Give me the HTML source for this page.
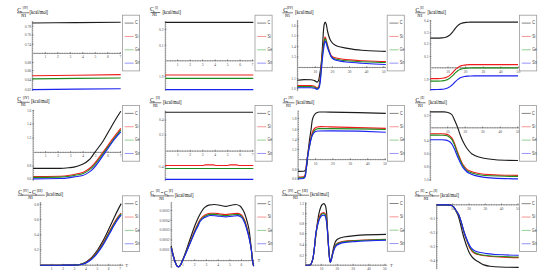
<!DOCTYPE html>
<html><head><meta charset="utf-8"><style>
html,body{margin:0;padding:0;background:#fff;width:550px;height:278px;overflow:hidden}
svg{display:block}
.t{font-family:"Liberation Serif",serif;font-size:5.3px;fill:#222;stroke:#222;stroke-width:0.1}
.ts{font-family:"Liberation Serif",serif;font-size:3.4px;fill:#333;stroke:#333;stroke-width:0.05}
.tn{font-family:"Liberation Serif",serif;font-size:4.5px;fill:#222;stroke:#222;stroke-width:0.08}
.tk{font-family:"Liberation Serif",serif;font-size:5.1px;fill:#2a2a2a;stroke:#2a2a2a;stroke-width:0.05}
.tl{font-family:"Liberation Serif",serif;font-size:3.6px;fill:#4a4a4a}
.lt{font-family:"Liberation Sans",sans-serif;font-size:4.6px;fill:#3a3a3a}
.fb{stroke:#333;stroke-width:0.65}
.ax{stroke:#9a9a9a;stroke-width:1.0}
.mt{stroke:#666;stroke-width:0.55;fill:none}
.Mt{stroke:#555;stroke-width:0.6;fill:none}
.cv{fill:none;stroke-width:1.15;stroke-linejoin:round;stroke-linecap:butt}
.lb{fill:none;stroke:#9a9a9a;stroke-width:0.8}
</style></head><body>
<svg width="550" height="278" viewBox="0 0 550 278">
<rect width="550" height="278" fill="#fff"/>
<text x="17.30" y="11.60" class="t">C</text>
<text x="20.20" y="13.40" class="ts">v</text>
<text x="22.70" y="9.10" class="ts" textLength="5.10" lengthAdjust="spacingAndGlyphs">[IV]</text>
<line x1="17.00" y1="12.80" x2="29.30" y2="12.80" class="fb"/>
<text x="21.30" y="16.60" class="tn" textLength="4.90" lengthAdjust="spacingAndGlyphs">N1</text>
<text x="29.60" y="13.90" class="tk" textLength="18.50" lengthAdjust="spacingAndGlyphs">[kcal/mol]</text>
<line x1="32.30" y1="21.00" x2="32.30" y2="91.00" class="ax"/>
<path d="M32.30 22.00h1M32.30 24.20h1M32.30 26.40h1M32.30 28.60h1M32.30 30.80h1M32.30 33.00h1M32.30 35.20h1M32.30 37.40h1M32.30 39.60h1M32.30 41.80h1M32.30 44.00h1M32.30 46.20h1M32.30 48.40h1M32.30 50.60h1M32.30 52.80h1M32.30 55.00h1M32.30 57.20h1M32.30 59.40h1M32.30 61.60h1M32.30 63.80h1M32.30 66.00h1M32.30 68.20h1M32.30 70.40h1M32.30 72.60h1M32.30 74.80h1M32.30 77.00h1M32.30 79.20h1M32.30 81.40h1M32.30 83.60h1M32.30 85.80h1M32.30 88.00h1M32.30 90.20h1" class="mt"/>
<line x1="32.30" y1="53.40" x2="121.00" y2="53.40" class="ax"/>
<path d="M34.80 52.75v1.3M37.30 52.75v1.3M39.80 52.75v1.3M42.30 52.75v1.3M44.80 52.75v1.3M47.30 52.75v1.3M49.80 52.75v1.3M52.30 52.75v1.3M54.80 52.75v1.3M57.30 52.75v1.3M59.80 52.75v1.3M62.30 52.75v1.3M64.80 52.75v1.3M67.30 52.75v1.3M69.80 52.75v1.3M72.30 52.75v1.3M74.80 52.75v1.3M77.30 52.75v1.3M79.80 52.75v1.3M82.30 52.75v1.3M84.80 52.75v1.3M87.30 52.75v1.3M89.80 52.75v1.3M92.30 52.75v1.3M94.80 52.75v1.3M97.30 52.75v1.3M99.80 52.75v1.3M102.30 52.75v1.3M104.80 52.75v1.3M107.30 52.75v1.3M109.80 52.75v1.3M112.30 52.75v1.3M114.80 52.75v1.3M117.30 52.75v1.3M119.80 52.75v1.3" class="mt"/>
<path d="M45.30 53.70v-1.7M57.80 53.70v-1.7M70.30 53.70v-1.7M82.80 53.70v-1.7M95.30 53.70v-1.7M107.80 53.70v-1.7M120.30 53.70v-1.7" class="Mt"/>
<text x="45.30" y="58.40" class="tl" text-anchor="middle">1</text>
<text x="57.80" y="58.40" class="tl" text-anchor="middle">2</text>
<text x="70.30" y="58.40" class="tl" text-anchor="middle">3</text>
<text x="82.80" y="58.40" class="tl" text-anchor="middle">4</text>
<text x="95.30" y="58.40" class="tl" text-anchor="middle">5</text>
<text x="107.80" y="58.40" class="tl" text-anchor="middle">6</text>
<text x="120.30" y="58.40" class="tl" text-anchor="middle">7</text>
<text x="31.00" y="27.50" class="tl" text-anchor="end">0.78</text>
<path d="M32.00 26.10h1.6" class="Mt"/>
<text x="31.00" y="36.40" class="tl" text-anchor="end">0.76</text>
<path d="M32.00 35.00h1.6" class="Mt"/>
<text x="31.00" y="45.60" class="tl" text-anchor="end">0.74</text>
<path d="M32.00 44.20h1.6" class="Mt"/>
<text x="31.00" y="63.90" class="tl" text-anchor="end">0.68</text>
<path d="M32.00 62.50h1.6" class="Mt"/>
<text x="31.00" y="72.10" class="tl" text-anchor="end">0.66</text>
<path d="M32.00 70.70h1.6" class="Mt"/>
<text x="31.00" y="81.40" class="tl" text-anchor="end">0.64</text>
<path d="M32.00 80.00h1.6" class="Mt"/>
<text x="31.00" y="90.90" class="tl" text-anchor="end">0.62</text>
<path d="M32.00 89.50h1.6" class="Mt"/>
<path d="M32.30 23.00C46.87 22.85 61.43 22.71 76.00 22.60C90.90 22.48 105.80 22.38 120.70 22.30" stroke="#1c1c1c" class="cv"/>
<path d="M32.30 75.80C46.87 75.60 61.43 75.40 76.00 75.20C90.90 75.00 105.80 74.80 120.70 74.60" stroke="#ee1c1c" class="cv"/>
<path d="M32.30 78.90C46.87 78.72 61.43 78.55 76.00 78.40C90.90 78.25 105.80 78.11 120.70 78.00" stroke="#1f8c1f" class="cv"/>
<path d="M32.30 89.60C46.87 89.42 61.43 89.25 76.00 89.10C90.90 88.95 105.80 88.81 120.70 88.70" stroke="#1c22f0" class="cv"/>
<rect x="122.50" y="15.20" width="17.1" height="55.7" class="lb"/>
<line x1="124.70" y1="23.10" x2="133.70" y2="23.10" stroke="#666666" stroke-width="0.8"/>
<text x="135.10" y="24.40" class="lt" textLength="2.70" lengthAdjust="spacingAndGlyphs">C</text>
<line x1="124.70" y1="36.45" x2="133.70" y2="36.45" stroke="#f27a7a" stroke-width="0.8"/>
<text x="135.10" y="37.75" class="lt" textLength="3.20" lengthAdjust="spacingAndGlyphs">Si</text>
<line x1="124.70" y1="49.80" x2="133.70" y2="49.80" stroke="#7cc47c" stroke-width="0.8"/>
<text x="135.10" y="51.10" class="lt" textLength="4.50" lengthAdjust="spacingAndGlyphs">Ge</text>
<line x1="124.70" y1="63.15" x2="133.70" y2="63.15" stroke="#7a7af5" stroke-width="0.8"/>
<text x="135.10" y="64.45" class="lt" textLength="4.50" lengthAdjust="spacingAndGlyphs">Sn</text>
<text x="150.00" y="11.30" class="t">C</text>
<text x="152.90" y="13.10" class="ts">v</text>
<text x="155.10" y="8.80" class="ts" textLength="2.90" lengthAdjust="spacingAndGlyphs">[I]</text>
<line x1="150.40" y1="12.50" x2="160.20" y2="12.50" class="fb"/>
<text x="152.20" y="16.30" class="tn" textLength="4.90" lengthAdjust="spacingAndGlyphs">N1</text>
<text x="162.40" y="13.60" class="tk" textLength="18.50" lengthAdjust="spacingAndGlyphs">[kcal/mol]</text>
<line x1="165.30" y1="21.00" x2="165.30" y2="90.50" class="ax"/>
<path d="M165.30 22.00h1M165.30 24.20h1M165.30 26.40h1M165.30 28.60h1M165.30 30.80h1M165.30 33.00h1M165.30 35.20h1M165.30 37.40h1M165.30 39.60h1M165.30 41.80h1M165.30 44.00h1M165.30 46.20h1M165.30 48.40h1M165.30 50.60h1M165.30 52.80h1M165.30 55.00h1M165.30 57.20h1M165.30 59.40h1M165.30 61.60h1M165.30 63.80h1M165.30 66.00h1M165.30 68.20h1M165.30 70.40h1M165.30 72.60h1M165.30 74.80h1M165.30 77.00h1M165.30 79.20h1M165.30 81.40h1M165.30 83.60h1M165.30 85.80h1M165.30 88.00h1M165.30 90.20h1" class="mt"/>
<line x1="165.30" y1="60.80" x2="253.50" y2="60.80" class="ax"/>
<path d="M167.80 60.15v1.3M170.30 60.15v1.3M172.80 60.15v1.3M175.30 60.15v1.3M177.80 60.15v1.3M180.30 60.15v1.3M182.80 60.15v1.3M185.30 60.15v1.3M187.80 60.15v1.3M190.30 60.15v1.3M192.80 60.15v1.3M195.30 60.15v1.3M197.80 60.15v1.3M200.30 60.15v1.3M202.80 60.15v1.3M205.30 60.15v1.3M207.80 60.15v1.3M210.30 60.15v1.3M212.80 60.15v1.3M215.30 60.15v1.3M217.80 60.15v1.3M220.30 60.15v1.3M222.80 60.15v1.3M225.30 60.15v1.3M227.80 60.15v1.3M230.30 60.15v1.3M232.80 60.15v1.3M235.30 60.15v1.3M237.80 60.15v1.3M240.30 60.15v1.3M242.80 60.15v1.3M245.30 60.15v1.3M247.80 60.15v1.3M250.30 60.15v1.3M252.80 60.15v1.3" class="mt"/>
<path d="M177.70 61.10v-1.7M190.17 61.10v-1.7M202.64 61.10v-1.7M215.11 61.10v-1.7M227.58 61.10v-1.7M240.05 61.10v-1.7M252.52 61.10v-1.7" class="Mt"/>
<text x="177.70" y="65.80" class="tl" text-anchor="middle">1</text>
<text x="190.17" y="65.80" class="tl" text-anchor="middle">2</text>
<text x="202.64" y="65.80" class="tl" text-anchor="middle">3</text>
<text x="215.11" y="65.80" class="tl" text-anchor="middle">4</text>
<text x="227.58" y="65.80" class="tl" text-anchor="middle">5</text>
<text x="240.05" y="65.80" class="tl" text-anchor="middle">6</text>
<text x="252.52" y="65.80" class="tl" text-anchor="middle">7</text>
<text x="163.60" y="30.80" class="tl" text-anchor="end">0.2</text>
<path d="M164.60 29.40h1.6" class="Mt"/>
<text x="163.60" y="46.60" class="tl" text-anchor="end">0.1</text>
<path d="M164.60 45.20h1.6" class="Mt"/>
<text x="163.60" y="77.80" class="tl" text-anchor="end">1.9</text>
<path d="M164.60 76.40h1.6" class="Mt"/>
<path d="M165.30 22.40L253.30 22.40" stroke="#1c1c1c" class="cv"/>
<path d="M165.30 75.00L253.30 75.00" stroke="#ee1c1c" class="cv"/>
<path d="M165.30 78.40L253.30 78.40" stroke="#1f8c1f" class="cv"/>
<path d="M165.30 89.60L253.30 89.60" stroke="#1c22f0" class="cv"/>
<rect x="255.00" y="15.20" width="17.1" height="55.7" class="lb"/>
<line x1="257.20" y1="23.10" x2="266.20" y2="23.10" stroke="#666666" stroke-width="0.8"/>
<text x="267.60" y="24.40" class="lt" textLength="2.70" lengthAdjust="spacingAndGlyphs">C</text>
<line x1="257.20" y1="36.45" x2="266.20" y2="36.45" stroke="#f27a7a" stroke-width="0.8"/>
<text x="267.60" y="37.75" class="lt" textLength="3.20" lengthAdjust="spacingAndGlyphs">Si</text>
<line x1="257.20" y1="49.80" x2="266.20" y2="49.80" stroke="#7cc47c" stroke-width="0.8"/>
<text x="267.60" y="51.10" class="lt" textLength="4.50" lengthAdjust="spacingAndGlyphs">Ge</text>
<line x1="257.20" y1="63.15" x2="266.20" y2="63.15" stroke="#7a7af5" stroke-width="0.8"/>
<text x="267.60" y="64.45" class="lt" textLength="4.50" lengthAdjust="spacingAndGlyphs">Sn</text>
<text x="283.20" y="11.60" class="t">C</text>
<text x="286.10" y="13.40" class="ts">v</text>
<text x="286.90" y="9.10" class="ts" textLength="6.00" lengthAdjust="spacingAndGlyphs">[IV]</text>
<line x1="282.40" y1="12.80" x2="292.90" y2="12.80" class="fb"/>
<text x="285.00" y="16.60" class="tn" textLength="4.90" lengthAdjust="spacingAndGlyphs">N1</text>
<text x="295.10" y="13.90" class="tk" textLength="18.50" lengthAdjust="spacingAndGlyphs">[kcal/mol]</text>
<line x1="297.40" y1="20.00" x2="297.40" y2="91.20" class="ax"/>
<path d="M297.40 21.00h1M297.40 23.20h1M297.40 25.40h1M297.40 27.60h1M297.40 29.80h1M297.40 32.00h1M297.40 34.20h1M297.40 36.40h1M297.40 38.60h1M297.40 40.80h1M297.40 43.00h1M297.40 45.20h1M297.40 47.40h1M297.40 49.60h1M297.40 51.80h1M297.40 54.00h1M297.40 56.20h1M297.40 58.40h1M297.40 60.60h1M297.40 62.80h1M297.40 65.00h1M297.40 67.20h1M297.40 69.40h1M297.40 71.60h1M297.40 73.80h1M297.40 76.00h1M297.40 78.20h1M297.40 80.40h1M297.40 82.60h1M297.40 84.80h1M297.40 87.00h1M297.40 89.20h1" class="mt"/>
<line x1="297.40" y1="67.50" x2="386.00" y2="67.50" class="ax"/>
<path d="M299.90 66.85v1.3M302.40 66.85v1.3M304.90 66.85v1.3M307.40 66.85v1.3M309.90 66.85v1.3M312.40 66.85v1.3M314.90 66.85v1.3M317.40 66.85v1.3M319.90 66.85v1.3M322.40 66.85v1.3M324.90 66.85v1.3M327.40 66.85v1.3M329.90 66.85v1.3M332.40 66.85v1.3M334.90 66.85v1.3M337.40 66.85v1.3M339.90 66.85v1.3M342.40 66.85v1.3M344.90 66.85v1.3M347.40 66.85v1.3M349.90 66.85v1.3M352.40 66.85v1.3M354.90 66.85v1.3M357.40 66.85v1.3M359.90 66.85v1.3M362.40 66.85v1.3M364.90 66.85v1.3M367.40 66.85v1.3M369.90 66.85v1.3M372.40 66.85v1.3M374.90 66.85v1.3M377.40 66.85v1.3M379.90 66.85v1.3M382.40 66.85v1.3M384.90 66.85v1.3" class="mt"/>
<path d="M315.30 67.80v-1.7M332.40 67.80v-1.7M349.50 67.80v-1.7M366.60 67.80v-1.7M383.70 67.80v-1.7" class="Mt"/>
<text x="315.30" y="72.50" class="tl" text-anchor="middle">10</text>
<text x="332.40" y="72.50" class="tl" text-anchor="middle">20</text>
<text x="349.50" y="72.50" class="tl" text-anchor="middle">30</text>
<text x="366.60" y="72.50" class="tl" text-anchor="middle">40</text>
<text x="383.70" y="72.50" class="tl" text-anchor="middle">50</text>
<text x="295.80" y="27.40" class="tl" text-anchor="end">1.6</text>
<path d="M296.80 26.00h1.6" class="Mt"/>
<text x="295.80" y="37.20" class="tl" text-anchor="end">1.5</text>
<path d="M296.80 35.80h1.6" class="Mt"/>
<text x="295.80" y="47.80" class="tl" text-anchor="end">1.4</text>
<path d="M296.80 46.40h1.6" class="Mt"/>
<text x="295.80" y="58.40" class="tl" text-anchor="end">1.3</text>
<path d="M296.80 57.00h1.6" class="Mt"/>
<text x="295.80" y="80.00" class="tl" text-anchor="end">1.1</text>
<path d="M296.80 78.60h1.6" class="Mt"/>
<text x="295.80" y="89.60" class="tl" text-anchor="end">1.0</text>
<path d="M296.80 88.20h1.6" class="Mt"/>
<path d="M297.40 80.20C299.60 79.89 301.80 79.60 304.00 79.60C306.33 79.60 308.67 79.63 311.00 79.70C312.17 79.74 313.33 80.18 314.50 80.60C315.37 80.91 316.23 82.10 317.10 82.10C317.60 82.10 318.10 81.44 318.60 80.50C318.93 79.88 319.27 77.00 319.60 75.00C320.10 72.01 320.60 69.46 321.10 65.00C321.70 59.65 322.30 49.35 322.90 40.00C323.07 37.40 323.23 33.47 323.40 31.50C323.67 28.34 323.93 25.56 324.20 24.50C324.53 23.18 324.87 22.00 325.20 22.00C325.53 22.00 325.87 23.05 326.20 24.00C326.67 25.33 327.13 29.60 327.60 31.50C328.50 35.17 329.40 38.31 330.30 40.00C331.20 41.69 332.10 42.83 333.00 43.60C334.50 44.88 336.00 45.81 337.50 46.30C340.33 47.23 343.17 47.62 346.00 48.10C351.20 48.98 356.40 49.83 361.60 50.20C369.67 50.77 377.73 51.30 385.80 51.30" stroke="#1c1c1c" class="cv"/>
<path d="M297.40 85.60C301.93 85.60 306.47 85.60 311.00 85.60C312.17 85.60 313.33 85.94 314.50 86.30C315.37 86.57 316.23 87.90 317.10 87.90C317.67 87.90 318.23 87.35 318.80 86.50C319.20 85.90 319.60 82.93 320.00 80.00C320.43 76.82 320.87 69.66 321.30 65.00C321.87 58.91 322.43 52.44 323.00 48.00C323.43 44.61 323.87 41.44 324.30 39.50C324.53 38.45 324.77 37.00 325.00 37.00C325.27 37.00 325.53 37.86 325.80 38.50C326.37 39.87 326.93 43.00 327.50 45.00C328.17 47.35 328.83 49.61 329.50 51.50C330.00 52.92 330.50 54.69 331.00 55.30C331.83 56.32 332.67 56.86 333.50 57.20C335.67 58.07 337.83 58.43 340.00 58.80C342.00 59.14 344.00 59.41 346.00 59.60C351.20 60.10 356.40 60.44 361.60 60.70C369.67 61.10 377.73 61.46 385.80 61.60" stroke="#ee1c1c" class="cv"/>
<path d="M297.40 86.60C301.93 86.60 306.47 86.60 311.00 86.60C312.17 86.60 313.33 86.96 314.50 87.30C315.37 87.55 316.23 88.60 317.10 88.60C317.70 88.60 318.30 88.10 318.90 87.30C319.30 86.77 319.70 83.87 320.10 81.00C320.53 77.89 320.97 70.66 321.40 66.00C321.97 59.91 322.53 53.27 323.10 49.00C323.53 45.73 323.97 42.86 324.40 41.00C324.63 40.00 324.87 38.60 325.10 38.60C325.37 38.60 325.63 39.39 325.90 40.00C326.47 41.30 327.03 44.50 327.60 46.50C328.27 48.85 328.93 51.24 329.60 53.00C330.13 54.41 330.67 55.97 331.20 56.60C332.03 57.58 332.87 58.17 333.70 58.50C335.80 59.32 337.90 59.64 340.00 60.00C342.00 60.34 344.00 60.62 346.00 60.80C351.20 61.27 356.40 61.59 361.60 61.80C369.67 62.13 377.73 62.44 385.80 62.50" stroke="#1f8c1f" class="cv"/>
<path d="M297.40 87.70C301.93 87.70 306.47 87.70 311.00 87.70C312.17 87.70 313.33 87.94 314.50 88.20C315.37 88.39 316.23 89.30 317.10 89.30C317.73 89.30 318.37 88.81 319.00 88.00C319.40 87.49 319.80 84.72 320.20 82.00C320.63 79.06 321.07 72.37 321.50 68.00C322.07 62.29 322.63 56.34 323.20 52.00C323.63 48.68 324.07 45.44 324.50 43.50C324.73 42.45 324.97 41.00 325.20 41.00C325.47 41.00 325.73 41.87 326.00 42.50C326.53 43.75 327.07 46.43 327.60 48.00C328.20 49.76 328.80 51.22 329.40 52.60C330.27 54.60 331.13 57.19 332.00 58.00C333.33 59.25 334.67 59.90 336.00 60.30C337.33 60.70 338.67 60.87 340.00 61.10C342.00 61.45 344.00 61.79 346.00 62.00C351.20 62.56 356.40 62.87 361.60 63.20C369.67 63.72 377.73 64.18 385.80 64.50" stroke="#1c22f0" class="cv"/>
<rect x="387.20" y="15.20" width="17.1" height="55.7" class="lb"/>
<line x1="389.40" y1="23.10" x2="398.40" y2="23.10" stroke="#666666" stroke-width="0.8"/>
<text x="399.80" y="24.40" class="lt" textLength="2.70" lengthAdjust="spacingAndGlyphs">C</text>
<line x1="389.40" y1="36.45" x2="398.40" y2="36.45" stroke="#f27a7a" stroke-width="0.8"/>
<text x="399.80" y="37.75" class="lt" textLength="3.20" lengthAdjust="spacingAndGlyphs">Si</text>
<line x1="389.40" y1="49.80" x2="398.40" y2="49.80" stroke="#7cc47c" stroke-width="0.8"/>
<text x="399.80" y="51.10" class="lt" textLength="4.50" lengthAdjust="spacingAndGlyphs">Ge</text>
<line x1="389.40" y1="63.15" x2="398.40" y2="63.15" stroke="#7a7af5" stroke-width="0.8"/>
<text x="399.80" y="64.45" class="lt" textLength="4.50" lengthAdjust="spacingAndGlyphs">Sn</text>
<text x="415.50" y="11.60" class="t">C</text>
<text x="418.40" y="13.40" class="ts">v</text>
<text x="420.20" y="9.10" class="ts" textLength="3.30" lengthAdjust="spacingAndGlyphs">[II]</text>
<line x1="415.10" y1="12.80" x2="425.30" y2="12.80" class="fb"/>
<text x="417.60" y="16.60" class="tn" textLength="4.90" lengthAdjust="spacingAndGlyphs">N1</text>
<text x="427.50" y="13.90" class="tk" textLength="18.50" lengthAdjust="spacingAndGlyphs">[kcal/mol]</text>
<line x1="430.40" y1="20.20" x2="430.40" y2="91.00" class="ax"/>
<path d="M430.40 21.20h1M430.40 23.40h1M430.40 25.60h1M430.40 27.80h1M430.40 30.00h1M430.40 32.20h1M430.40 34.40h1M430.40 36.60h1M430.40 38.80h1M430.40 41.00h1M430.40 43.20h1M430.40 45.40h1M430.40 47.60h1M430.40 49.80h1M430.40 52.00h1M430.40 54.20h1M430.40 56.40h1M430.40 58.60h1M430.40 60.80h1M430.40 63.00h1M430.40 65.20h1M430.40 67.40h1M430.40 69.60h1M430.40 71.80h1M430.40 74.00h1M430.40 76.20h1M430.40 78.40h1M430.40 80.60h1M430.40 82.80h1M430.40 85.00h1M430.40 87.20h1M430.40 89.40h1" class="mt"/>
<line x1="430.40" y1="67.80" x2="519.00" y2="67.80" class="ax"/>
<path d="M432.90 67.15v1.3M435.40 67.15v1.3M437.90 67.15v1.3M440.40 67.15v1.3M442.90 67.15v1.3M445.40 67.15v1.3M447.90 67.15v1.3M450.40 67.15v1.3M452.90 67.15v1.3M455.40 67.15v1.3M457.90 67.15v1.3M460.40 67.15v1.3M462.90 67.15v1.3M465.40 67.15v1.3M467.90 67.15v1.3M470.40 67.15v1.3M472.90 67.15v1.3M475.40 67.15v1.3M477.90 67.15v1.3M480.40 67.15v1.3M482.90 67.15v1.3M485.40 67.15v1.3M487.90 67.15v1.3M490.40 67.15v1.3M492.90 67.15v1.3M495.40 67.15v1.3M497.90 67.15v1.3M500.40 67.15v1.3M502.90 67.15v1.3M505.40 67.15v1.3M507.90 67.15v1.3M510.40 67.15v1.3M512.90 67.15v1.3M515.40 67.15v1.3M517.90 67.15v1.3" class="mt"/>
<path d="M448.00 68.10v-1.7M465.60 68.10v-1.7M483.20 68.10v-1.7M500.80 68.10v-1.7M518.40 68.10v-1.7" class="Mt"/>
<text x="448.00" y="72.80" class="tl" text-anchor="middle">10</text>
<text x="465.60" y="72.80" class="tl" text-anchor="middle">20</text>
<text x="483.20" y="72.80" class="tl" text-anchor="middle">30</text>
<text x="500.80" y="72.80" class="tl" text-anchor="middle">40</text>
<text x="518.40" y="72.80" class="tl" text-anchor="middle">50</text>
<text x="428.60" y="22.10" class="tl" text-anchor="end">0.4</text>
<path d="M429.60 20.70h1.6" class="Mt"/>
<text x="428.60" y="34.30" class="tl" text-anchor="end">0.3</text>
<path d="M429.60 32.90h1.6" class="Mt"/>
<text x="428.60" y="45.30" class="tl" text-anchor="end">0.2</text>
<path d="M429.60 43.90h1.6" class="Mt"/>
<text x="428.60" y="57.80" class="tl" text-anchor="end">0.1</text>
<path d="M429.60 56.40h1.6" class="Mt"/>
<text x="428.60" y="80.80" class="tl" text-anchor="end">1.9</text>
<path d="M429.60 79.40h1.6" class="Mt"/>
<path d="M430.40 38.19C433.27 38.19 436.13 38.15 439.00 38.09C440.00 38.07 441.00 38.00 442.00 37.91C443.00 37.82 444.00 37.66 445.00 37.44C445.50 37.33 446.00 37.17 446.50 36.98C447.00 36.79 447.50 36.56 448.00 36.28C448.50 36.00 449.00 35.65 449.50 35.26C450.00 34.87 450.50 34.39 451.00 33.87C451.50 33.35 452.00 32.74 452.50 32.12C453.00 31.50 453.50 30.81 454.00 30.15C454.50 29.49 455.00 28.80 455.50 28.18C456.00 27.56 456.50 26.95 457.00 26.43C457.50 25.91 458.00 25.43 458.50 25.04C459.00 24.65 459.50 24.30 460.00 24.02C460.50 23.74 461.00 23.51 461.50 23.32C462.00 23.13 462.50 22.97 463.00 22.86C464.00 22.64 465.00 22.48 466.00 22.39C467.00 22.30 468.00 22.24 469.00 22.21C470.00 22.18 471.00 22.14 472.00 22.14C487.33 22.10 502.67 22.10 518.00 22.10" stroke="#1c1c1c" class="cv"/>
<path d="M430.40 78.69C432.77 78.69 435.13 78.66 437.50 78.61C438.57 78.59 439.63 78.53 440.70 78.45C441.77 78.37 442.83 78.22 443.90 78.03C444.43 77.93 444.97 77.79 445.50 77.63C446.03 77.47 446.57 77.26 447.10 77.02C447.63 76.78 448.17 76.47 448.70 76.13C449.23 75.79 449.77 75.36 450.30 74.91C450.83 74.46 451.37 73.92 451.90 73.38C452.43 72.84 452.97 72.23 453.50 71.65C454.03 71.07 454.57 70.46 455.10 69.92C455.63 69.38 456.17 68.84 456.70 68.39C457.23 67.94 457.77 67.51 458.30 67.17C458.83 66.83 459.37 66.52 459.90 66.28C460.43 66.04 460.97 65.83 461.50 65.67C462.03 65.51 462.57 65.37 463.10 65.27C464.17 65.08 465.23 64.93 466.30 64.85C467.37 64.77 468.43 64.72 469.50 64.69C470.57 64.66 471.63 64.63 472.70 64.63C487.80 64.60 502.90 64.60 518.00 64.60" stroke="#ee1c1c" class="cv"/>
<path d="M430.40 81.19C432.83 81.19 435.27 81.16 437.70 81.11C438.77 81.09 439.83 81.03 440.90 80.96C441.97 80.89 443.03 80.75 444.10 80.57C444.63 80.48 445.17 80.34 445.70 80.19C446.23 80.04 446.77 79.84 447.30 79.61C447.83 79.38 448.37 79.09 448.90 78.77C449.43 78.45 449.97 78.05 450.50 77.62C451.03 77.19 451.57 76.69 452.10 76.18C452.63 75.67 453.17 75.09 453.70 74.55C454.23 74.01 454.77 73.43 455.30 72.92C455.83 72.41 456.37 71.91 456.90 71.48C457.43 71.05 457.97 70.65 458.50 70.33C459.03 70.01 459.57 69.72 460.10 69.49C460.63 69.26 461.17 69.06 461.70 68.91C462.23 68.76 462.77 68.62 463.30 68.53C464.37 68.35 465.43 68.21 466.50 68.14C467.57 68.07 468.63 68.02 469.70 67.99C470.77 67.96 471.83 67.93 472.90 67.93C487.93 67.90 502.97 67.90 518.00 67.90" stroke="#1f8c1f" class="cv"/>
<path d="M430.40 89.59C432.87 89.59 435.33 89.56 437.80 89.51C438.90 89.49 440.00 89.43 441.10 89.35C442.20 89.27 443.30 89.13 444.40 88.95C444.95 88.86 445.50 88.72 446.05 88.56C446.60 88.40 447.15 88.20 447.70 87.97C448.25 87.74 448.80 87.43 449.35 87.10C449.90 86.77 450.45 86.36 451.00 85.92C451.55 85.48 452.10 84.96 452.65 84.43C453.20 83.90 453.75 83.31 454.30 82.75C454.85 82.19 455.40 81.60 455.95 81.07C456.50 80.54 457.05 80.02 457.60 79.58C458.15 79.14 458.70 78.73 459.25 78.40C459.80 78.07 460.35 77.76 460.90 77.53C461.45 77.30 462.00 77.10 462.55 76.94C463.10 76.78 463.65 76.64 464.20 76.55C465.30 76.37 466.40 76.23 467.50 76.15C468.60 76.07 469.70 76.02 470.80 75.99C471.90 75.96 473.00 75.93 474.10 75.93C488.73 75.90 503.37 75.90 518.00 75.90" stroke="#1c22f0" class="cv"/>
<rect x="519.60" y="15.20" width="17.1" height="55.7" class="lb"/>
<line x1="521.80" y1="23.10" x2="530.80" y2="23.10" stroke="#666666" stroke-width="0.8"/>
<text x="532.20" y="24.40" class="lt" textLength="2.70" lengthAdjust="spacingAndGlyphs">C</text>
<line x1="521.80" y1="36.45" x2="530.80" y2="36.45" stroke="#f27a7a" stroke-width="0.8"/>
<text x="532.20" y="37.75" class="lt" textLength="3.20" lengthAdjust="spacingAndGlyphs">Si</text>
<line x1="521.80" y1="49.80" x2="530.80" y2="49.80" stroke="#7cc47c" stroke-width="0.8"/>
<text x="532.20" y="51.10" class="lt" textLength="4.50" lengthAdjust="spacingAndGlyphs">Ge</text>
<line x1="521.80" y1="63.15" x2="530.80" y2="63.15" stroke="#7a7af5" stroke-width="0.8"/>
<text x="532.20" y="64.45" class="lt" textLength="4.50" lengthAdjust="spacingAndGlyphs">Sn</text>
<text x="17.30" y="101.10" class="t">C</text>
<text x="20.20" y="102.90" class="ts">v</text>
<text x="23.10" y="98.60" class="ts" textLength="5.80" lengthAdjust="spacingAndGlyphs">[IV]</text>
<line x1="17.30" y1="102.30" x2="29.60" y2="102.30" class="fb"/>
<text x="20.90" y="106.10" class="tn" textLength="4.90" lengthAdjust="spacingAndGlyphs">N1</text>
<text x="31.10" y="103.40" class="tk" textLength="18.50" lengthAdjust="spacingAndGlyphs">[kcal/mol]</text>
<line x1="33.10" y1="110.00" x2="33.10" y2="181.00" class="ax"/>
<path d="M33.10 111.00h1M33.10 113.20h1M33.10 115.40h1M33.10 117.60h1M33.10 119.80h1M33.10 122.00h1M33.10 124.20h1M33.10 126.40h1M33.10 128.60h1M33.10 130.80h1M33.10 133.00h1M33.10 135.20h1M33.10 137.40h1M33.10 139.60h1M33.10 141.80h1M33.10 144.00h1M33.10 146.20h1M33.10 148.40h1M33.10 150.60h1M33.10 152.80h1M33.10 155.00h1M33.10 157.20h1M33.10 159.40h1M33.10 161.60h1M33.10 163.80h1M33.10 166.00h1M33.10 168.20h1M33.10 170.40h1M33.10 172.60h1M33.10 174.80h1M33.10 177.00h1M33.10 179.20h1" class="mt"/>
<line x1="33.10" y1="152.40" x2="121.00" y2="152.40" class="ax"/>
<path d="M35.60 151.75v1.3M38.10 151.75v1.3M40.60 151.75v1.3M43.10 151.75v1.3M45.60 151.75v1.3M48.10 151.75v1.3M50.60 151.75v1.3M53.10 151.75v1.3M55.60 151.75v1.3M58.10 151.75v1.3M60.60 151.75v1.3M63.10 151.75v1.3M65.60 151.75v1.3M68.10 151.75v1.3M70.60 151.75v1.3M73.10 151.75v1.3M75.60 151.75v1.3M78.10 151.75v1.3M80.60 151.75v1.3M83.10 151.75v1.3M85.60 151.75v1.3M88.10 151.75v1.3M90.60 151.75v1.3M93.10 151.75v1.3M95.60 151.75v1.3M98.10 151.75v1.3M100.60 151.75v1.3M103.10 151.75v1.3M105.60 151.75v1.3M108.10 151.75v1.3M110.60 151.75v1.3M113.10 151.75v1.3M115.60 151.75v1.3M118.10 151.75v1.3M120.60 151.75v1.3" class="mt"/>
<path d="M45.60 152.70v-1.7M58.10 152.70v-1.7M70.60 152.70v-1.7M83.10 152.70v-1.7M95.60 152.70v-1.7M108.10 152.70v-1.7M120.60 152.70v-1.7" class="Mt"/>
<text x="45.60" y="157.40" class="tl" text-anchor="middle">1</text>
<text x="58.10" y="157.40" class="tl" text-anchor="middle">2</text>
<text x="70.60" y="157.40" class="tl" text-anchor="middle">3</text>
<text x="83.10" y="157.40" class="tl" text-anchor="middle">4</text>
<text x="95.60" y="157.40" class="tl" text-anchor="middle">5</text>
<text x="108.10" y="157.40" class="tl" text-anchor="middle">6</text>
<text x="120.60" y="157.40" class="tl" text-anchor="middle">7</text>
<text x="31.40" y="111.90" class="tl" text-anchor="end">1.6</text>
<path d="M32.40 110.50h1.6" class="Mt"/>
<text x="31.40" y="125.40" class="tl" text-anchor="end">1.4</text>
<path d="M32.40 124.00h1.6" class="Mt"/>
<text x="31.40" y="139.40" class="tl" text-anchor="end">1.2</text>
<path d="M32.40 138.00h1.6" class="Mt"/>
<text x="31.40" y="167.40" class="tl" text-anchor="end">0.8</text>
<path d="M32.40 166.00h1.6" class="Mt"/>
<text x="31.40" y="180.40" class="tl" text-anchor="end">0.6</text>
<path d="M32.40 179.00h1.6" class="Mt"/>
<path d="M33.10 168.40C42.07 168.40 51.03 168.37 60.00 168.30C63.33 168.27 66.67 167.91 70.00 167.60C71.33 167.48 72.67 167.33 74.00 167.10C76.87 166.61 79.73 165.59 82.60 164.30C84.90 163.27 87.20 161.65 89.50 159.50C91.20 157.91 92.90 154.90 94.60 152.60C97.40 148.81 100.20 145.47 103.00 141.20C105.17 137.89 107.33 133.74 109.50 130.00C111.33 126.84 113.17 123.53 115.00 120.50C116.93 117.30 118.87 114.23 120.80 111.30" stroke="#1c1c1c" class="cv"/>
<path d="M33.10 176.50C42.07 176.50 51.03 176.40 60.00 176.20C63.33 176.12 66.67 175.74 70.00 175.30C71.33 175.12 72.67 174.78 74.00 174.50C76.87 173.89 79.73 173.48 82.60 172.50C85.47 171.52 88.33 169.38 91.20 167.00C95.17 163.71 99.13 157.43 103.10 152.20C105.97 148.42 108.83 144.05 111.70 140.20C114.73 136.12 117.77 132.18 120.80 128.40" stroke="#ee1c1c" class="cv"/>
<path d="M33.10 177.40C42.07 177.40 51.03 177.30 60.00 177.10C63.33 177.03 66.67 176.71 70.00 176.30C71.33 176.14 72.67 175.77 74.00 175.50C76.87 174.92 79.73 174.60 82.60 173.70C85.47 172.80 88.33 170.71 91.20 168.40C95.43 164.98 99.67 158.11 103.90 152.60C106.80 148.83 109.70 144.64 112.60 140.80C115.33 137.18 118.07 133.65 120.80 130.20" stroke="#1f8c1f" class="cv"/>
<path d="M33.10 178.80C42.07 178.80 51.03 178.70 60.00 178.50C63.33 178.42 66.67 178.02 70.00 177.60C71.33 177.43 72.67 177.13 74.00 176.90C76.87 176.41 79.73 176.23 82.60 175.50C85.47 174.77 88.33 172.80 91.20 170.60C95.93 166.97 100.67 158.67 105.40 152.20C108.23 148.32 111.07 143.67 113.90 140.00C116.20 137.02 118.50 134.28 120.80 131.80" stroke="#1c22f0" class="cv"/>
<rect x="122.50" y="105.50" width="17.1" height="55.7" class="lb"/>
<line x1="124.70" y1="113.40" x2="133.70" y2="113.40" stroke="#666666" stroke-width="0.8"/>
<text x="135.10" y="114.70" class="lt" textLength="2.70" lengthAdjust="spacingAndGlyphs">C</text>
<line x1="124.70" y1="126.75" x2="133.70" y2="126.75" stroke="#f27a7a" stroke-width="0.8"/>
<text x="135.10" y="128.05" class="lt" textLength="3.20" lengthAdjust="spacingAndGlyphs">Si</text>
<line x1="124.70" y1="140.10" x2="133.70" y2="140.10" stroke="#7cc47c" stroke-width="0.8"/>
<text x="135.10" y="141.40" class="lt" textLength="4.50" lengthAdjust="spacingAndGlyphs">Ge</text>
<line x1="124.70" y1="153.45" x2="133.70" y2="153.45" stroke="#7a7af5" stroke-width="0.8"/>
<text x="135.10" y="154.75" class="lt" textLength="4.50" lengthAdjust="spacingAndGlyphs">Sn</text>
<text x="150.00" y="101.60" class="t">C</text>
<text x="152.90" y="103.40" class="ts">v</text>
<text x="155.80" y="99.10" class="ts" textLength="4.00" lengthAdjust="spacingAndGlyphs">[I]</text>
<line x1="149.60" y1="102.80" x2="161.30" y2="102.80" class="fb"/>
<text x="152.90" y="106.60" class="tn" textLength="4.90" lengthAdjust="spacingAndGlyphs">N1</text>
<text x="163.10" y="103.90" class="tk" textLength="18.50" lengthAdjust="spacingAndGlyphs">[kcal/mol]</text>
<line x1="165.20" y1="110.50" x2="165.20" y2="181.00" class="ax"/>
<path d="M165.20 111.50h1M165.20 113.70h1M165.20 115.90h1M165.20 118.10h1M165.20 120.30h1M165.20 122.50h1M165.20 124.70h1M165.20 126.90h1M165.20 129.10h1M165.20 131.30h1M165.20 133.50h1M165.20 135.70h1M165.20 137.90h1M165.20 140.10h1M165.20 142.30h1M165.20 144.50h1M165.20 146.70h1M165.20 148.90h1M165.20 151.10h1M165.20 153.30h1M165.20 155.50h1M165.20 157.70h1M165.20 159.90h1M165.20 162.10h1M165.20 164.30h1M165.20 166.50h1M165.20 168.70h1M165.20 170.90h1M165.20 173.10h1M165.20 175.30h1M165.20 177.50h1M165.20 179.70h1" class="mt"/>
<line x1="165.20" y1="151.10" x2="253.50" y2="151.10" class="ax"/>
<path d="M167.70 150.45v1.3M170.20 150.45v1.3M172.70 150.45v1.3M175.20 150.45v1.3M177.70 150.45v1.3M180.20 150.45v1.3M182.70 150.45v1.3M185.20 150.45v1.3M187.70 150.45v1.3M190.20 150.45v1.3M192.70 150.45v1.3M195.20 150.45v1.3M197.70 150.45v1.3M200.20 150.45v1.3M202.70 150.45v1.3M205.20 150.45v1.3M207.70 150.45v1.3M210.20 150.45v1.3M212.70 150.45v1.3M215.20 150.45v1.3M217.70 150.45v1.3M220.20 150.45v1.3M222.70 150.45v1.3M225.20 150.45v1.3M227.70 150.45v1.3M230.20 150.45v1.3M232.70 150.45v1.3M235.20 150.45v1.3M237.70 150.45v1.3M240.20 150.45v1.3M242.70 150.45v1.3M245.20 150.45v1.3M247.70 150.45v1.3M250.20 150.45v1.3M252.70 150.45v1.3" class="mt"/>
<path d="M177.80 151.40v-1.7M190.27 151.40v-1.7M202.74 151.40v-1.7M215.21 151.40v-1.7M227.68 151.40v-1.7M240.15 151.40v-1.7M252.62 151.40v-1.7" class="Mt"/>
<text x="177.80" y="156.10" class="tl" text-anchor="middle">1</text>
<text x="190.27" y="156.10" class="tl" text-anchor="middle">2</text>
<text x="202.74" y="156.10" class="tl" text-anchor="middle">3</text>
<text x="215.21" y="156.10" class="tl" text-anchor="middle">4</text>
<text x="227.68" y="156.10" class="tl" text-anchor="middle">5</text>
<text x="240.15" y="156.10" class="tl" text-anchor="middle">6</text>
<text x="252.62" y="156.10" class="tl" text-anchor="middle">7</text>
<text x="163.60" y="121.40" class="tl" text-anchor="end">0.4</text>
<path d="M164.60 120.00h1.6" class="Mt"/>
<text x="163.60" y="136.40" class="tl" text-anchor="end">0.2</text>
<path d="M164.60 135.00h1.6" class="Mt"/>
<text x="163.60" y="168.20" class="tl" text-anchor="end">-1.4</text>
<path d="M164.60 166.80h1.6" class="Mt"/>
<path d="M165.20 112.20L253.00 112.20" stroke="#1c1c1c" class="cv"/>
<path d="M165.20 165.50C177.63 165.50 190.07 165.50 202.50 165.50C203.50 165.50 204.50 164.90 205.50 164.90C208.17 164.90 210.83 164.90 213.50 164.90C214.50 164.90 215.50 165.50 216.50 165.50C220.00 165.50 223.50 165.50 227.00 165.50C228.00 165.50 229.00 164.90 230.00 164.90C232.17 164.90 234.33 164.90 236.50 164.90C237.50 164.90 238.50 165.50 239.50 165.50C244.10 165.50 248.70 165.50 253.30 165.50" stroke="#ee1c1c" class="cv"/>
<path d="M165.20 168.50L253.30 168.50" stroke="#1f8c1f" class="cv"/>
<path d="M165.20 179.40L253.30 179.40" stroke="#1c22f0" class="cv"/>
<rect x="255.00" y="105.50" width="17.1" height="55.7" class="lb"/>
<line x1="257.20" y1="113.40" x2="266.20" y2="113.40" stroke="#666666" stroke-width="0.8"/>
<text x="267.60" y="114.70" class="lt" textLength="2.70" lengthAdjust="spacingAndGlyphs">C</text>
<line x1="257.20" y1="126.75" x2="266.20" y2="126.75" stroke="#f27a7a" stroke-width="0.8"/>
<text x="267.60" y="128.05" class="lt" textLength="3.20" lengthAdjust="spacingAndGlyphs">Si</text>
<line x1="257.20" y1="140.10" x2="266.20" y2="140.10" stroke="#7cc47c" stroke-width="0.8"/>
<text x="267.60" y="141.40" class="lt" textLength="4.50" lengthAdjust="spacingAndGlyphs">Ge</text>
<line x1="257.20" y1="153.45" x2="266.20" y2="153.45" stroke="#7a7af5" stroke-width="0.8"/>
<text x="267.60" y="154.75" class="lt" textLength="4.50" lengthAdjust="spacingAndGlyphs">Sn</text>
<text x="283.50" y="101.60" class="t">C</text>
<text x="286.40" y="103.40" class="ts">v</text>
<text x="288.50" y="99.10" class="ts" textLength="4.80" lengthAdjust="spacingAndGlyphs">[IV]</text>
<line x1="282.70" y1="102.80" x2="294.40" y2="102.80" class="fb"/>
<text x="286.00" y="106.60" class="tn" textLength="4.90" lengthAdjust="spacingAndGlyphs">N1</text>
<text x="295.80" y="103.90" class="tk" textLength="18.50" lengthAdjust="spacingAndGlyphs">[kcal/mol]</text>
<line x1="298.00" y1="110.40" x2="298.00" y2="180.00" class="ax"/>
<path d="M298.00 111.40h1M298.00 113.60h1M298.00 115.80h1M298.00 118.00h1M298.00 120.20h1M298.00 122.40h1M298.00 124.60h1M298.00 126.80h1M298.00 129.00h1M298.00 131.20h1M298.00 133.40h1M298.00 135.60h1M298.00 137.80h1M298.00 140.00h1M298.00 142.20h1M298.00 144.40h1M298.00 146.60h1M298.00 148.80h1M298.00 151.00h1M298.00 153.20h1M298.00 155.40h1M298.00 157.60h1M298.00 159.80h1M298.00 162.00h1M298.00 164.20h1M298.00 166.40h1M298.00 168.60h1M298.00 170.80h1M298.00 173.00h1M298.00 175.20h1M298.00 177.40h1M298.00 179.60h1" class="mt"/>
<line x1="298.00" y1="159.60" x2="386.00" y2="159.60" class="ax"/>
<path d="M300.50 158.95v1.3M303.00 158.95v1.3M305.50 158.95v1.3M308.00 158.95v1.3M310.50 158.95v1.3M313.00 158.95v1.3M315.50 158.95v1.3M318.00 158.95v1.3M320.50 158.95v1.3M323.00 158.95v1.3M325.50 158.95v1.3M328.00 158.95v1.3M330.50 158.95v1.3M333.00 158.95v1.3M335.50 158.95v1.3M338.00 158.95v1.3M340.50 158.95v1.3M343.00 158.95v1.3M345.50 158.95v1.3M348.00 158.95v1.3M350.50 158.95v1.3M353.00 158.95v1.3M355.50 158.95v1.3M358.00 158.95v1.3M360.50 158.95v1.3M363.00 158.95v1.3M365.50 158.95v1.3M368.00 158.95v1.3M370.50 158.95v1.3M373.00 158.95v1.3M375.50 158.95v1.3M378.00 158.95v1.3M380.50 158.95v1.3M383.00 158.95v1.3M385.50 158.95v1.3" class="mt"/>
<path d="M315.50 159.90v-1.7M332.90 159.90v-1.7M350.30 159.90v-1.7M367.70 159.90v-1.7M385.10 159.90v-1.7" class="Mt"/>
<text x="315.50" y="164.60" class="tl" text-anchor="middle">10</text>
<text x="332.90" y="164.60" class="tl" text-anchor="middle">20</text>
<text x="350.30" y="164.60" class="tl" text-anchor="middle">30</text>
<text x="367.70" y="164.60" class="tl" text-anchor="middle">40</text>
<text x="385.10" y="164.60" class="tl" text-anchor="middle">50</text>
<text x="296.50" y="119.90" class="tl" text-anchor="end">1.8</text>
<path d="M297.50 118.50h1.6" class="Mt"/>
<text x="296.50" y="130.80" class="tl" text-anchor="end">1.6</text>
<path d="M297.50 129.40h1.6" class="Mt"/>
<text x="296.50" y="140.60" class="tl" text-anchor="end">1.4</text>
<path d="M297.50 139.20h1.6" class="Mt"/>
<text x="296.50" y="150.90" class="tl" text-anchor="end">1.2</text>
<path d="M297.50 149.50h1.6" class="Mt"/>
<text x="296.50" y="170.90" class="tl" text-anchor="end">0.8</text>
<path d="M297.50 169.50h1.6" class="Mt"/>
<text x="296.50" y="180.20" class="tl" text-anchor="end">0.6</text>
<path d="M297.50 178.80h1.6" class="Mt"/>
<path d="M298.00 171.40C299.93 171.40 301.87 171.38 303.80 171.30C304.37 171.28 304.93 170.59 305.50 169.80C306.00 169.10 306.50 167.71 307.00 165.00C307.27 163.55 307.53 157.82 307.80 155.00C308.37 149.01 308.93 144.29 309.50 140.00C310.00 136.21 310.50 133.52 311.00 130.00C311.47 126.72 311.93 121.40 312.40 119.60C312.93 117.55 313.47 116.36 314.00 115.50C314.73 114.32 315.47 113.37 316.20 113.00C317.27 112.46 318.33 112.00 319.40 112.00C322.93 112.00 326.47 112.06 330.00 112.10C348.60 112.33 367.20 112.75 385.80 113.40" stroke="#1c1c1c" class="cv"/>
<path d="M298.00 177.00C299.83 177.00 301.67 176.96 303.50 176.80C304.07 176.75 304.63 175.91 305.20 174.50C305.53 173.67 305.87 168.77 306.20 166.00C306.47 163.79 306.73 161.45 307.00 159.50C307.43 156.33 307.87 153.34 308.30 151.00C308.73 148.66 309.17 147.15 309.60 145.00C310.07 142.69 310.53 139.54 311.00 137.50C311.50 135.32 312.00 133.20 312.50 132.00C313.17 130.39 313.83 129.11 314.50 128.50C315.33 127.74 316.17 127.17 317.00 127.00C318.17 126.77 319.33 126.60 320.50 126.60C323.67 126.60 326.83 126.81 330.00 126.90C348.60 127.45 367.20 127.97 385.80 128.40" stroke="#ee1c1c" class="cv"/>
<path d="M298.00 177.80C299.83 177.80 301.67 177.75 303.50 177.60C304.10 177.55 304.70 176.73 305.30 175.30C305.63 174.51 305.97 169.94 306.30 167.00C306.57 164.65 306.83 161.50 307.10 159.50C307.57 155.99 308.03 153.47 308.50 151.00C309.00 148.36 309.50 146.33 310.00 144.00C310.50 141.67 311.00 138.70 311.50 137.00C312.00 135.30 312.50 133.97 313.00 133.00C313.67 131.70 314.33 130.49 315.00 130.00C316.00 129.26 317.00 128.60 318.00 128.60C322.00 128.60 326.00 128.60 330.00 128.60C348.60 128.60 367.20 128.95 385.80 129.50" stroke="#1f8c1f" class="cv"/>
<path d="M298.00 178.70C299.83 178.70 301.67 178.65 303.50 178.50C304.10 178.45 304.70 177.77 305.30 176.50C305.63 175.79 305.97 170.99 306.30 168.00C306.60 165.31 306.90 161.72 307.20 159.50C307.80 155.06 308.40 152.23 309.00 149.00C309.60 145.77 310.20 142.22 310.80 140.00C311.37 137.91 311.93 136.04 312.50 135.00C313.33 133.48 314.17 132.18 315.00 131.80C316.00 131.35 317.00 131.02 318.00 131.00C322.00 130.92 326.00 130.90 330.00 130.90C348.60 130.90 367.20 131.32 385.80 132.30" stroke="#1c22f0" class="cv"/>
<rect x="387.40" y="105.50" width="17.1" height="55.7" class="lb"/>
<line x1="389.60" y1="113.40" x2="398.60" y2="113.40" stroke="#666666" stroke-width="0.8"/>
<text x="400.00" y="114.70" class="lt" textLength="2.70" lengthAdjust="spacingAndGlyphs">C</text>
<line x1="389.60" y1="126.75" x2="398.60" y2="126.75" stroke="#f27a7a" stroke-width="0.8"/>
<text x="400.00" y="128.05" class="lt" textLength="3.20" lengthAdjust="spacingAndGlyphs">Si</text>
<line x1="389.60" y1="140.10" x2="398.60" y2="140.10" stroke="#7cc47c" stroke-width="0.8"/>
<text x="400.00" y="141.40" class="lt" textLength="4.50" lengthAdjust="spacingAndGlyphs">Ge</text>
<line x1="389.60" y1="153.45" x2="398.60" y2="153.45" stroke="#7a7af5" stroke-width="0.8"/>
<text x="400.00" y="154.75" class="lt" textLength="4.50" lengthAdjust="spacingAndGlyphs">Sn</text>
<text x="415.50" y="101.60" class="t">C</text>
<text x="418.40" y="103.40" class="ts">v</text>
<text x="420.50" y="99.10" class="ts" textLength="3.70" lengthAdjust="spacingAndGlyphs">[II]</text>
<line x1="415.10" y1="102.80" x2="425.60" y2="102.80" class="fb"/>
<text x="418.00" y="106.60" class="tn" textLength="4.90" lengthAdjust="spacingAndGlyphs">N1</text>
<text x="428.50" y="103.90" class="tk" textLength="18.50" lengthAdjust="spacingAndGlyphs">[kcal/mol]</text>
<line x1="430.20" y1="110.50" x2="430.20" y2="181.00" class="ax"/>
<path d="M430.20 111.50h1M430.20 113.70h1M430.20 115.90h1M430.20 118.10h1M430.20 120.30h1M430.20 122.50h1M430.20 124.70h1M430.20 126.90h1M430.20 129.10h1M430.20 131.30h1M430.20 133.50h1M430.20 135.70h1M430.20 137.90h1M430.20 140.10h1M430.20 142.30h1M430.20 144.50h1M430.20 146.70h1M430.20 148.90h1M430.20 151.10h1M430.20 153.30h1M430.20 155.50h1M430.20 157.70h1M430.20 159.90h1M430.20 162.10h1M430.20 164.30h1M430.20 166.50h1M430.20 168.70h1M430.20 170.90h1M430.20 173.10h1M430.20 175.30h1M430.20 177.50h1M430.20 179.70h1" class="mt"/>
<line x1="430.20" y1="127.80" x2="519.00" y2="127.80" class="ax"/>
<path d="M432.70 127.15v1.3M435.20 127.15v1.3M437.70 127.15v1.3M440.20 127.15v1.3M442.70 127.15v1.3M445.20 127.15v1.3M447.70 127.15v1.3M450.20 127.15v1.3M452.70 127.15v1.3M455.20 127.15v1.3M457.70 127.15v1.3M460.20 127.15v1.3M462.70 127.15v1.3M465.20 127.15v1.3M467.70 127.15v1.3M470.20 127.15v1.3M472.70 127.15v1.3M475.20 127.15v1.3M477.70 127.15v1.3M480.20 127.15v1.3M482.70 127.15v1.3M485.20 127.15v1.3M487.70 127.15v1.3M490.20 127.15v1.3M492.70 127.15v1.3M495.20 127.15v1.3M497.70 127.15v1.3M500.20 127.15v1.3M502.70 127.15v1.3M505.20 127.15v1.3M507.70 127.15v1.3M510.20 127.15v1.3M512.70 127.15v1.3M515.20 127.15v1.3M517.70 127.15v1.3" class="mt"/>
<path d="M447.70 128.10v-1.7M465.20 128.10v-1.7M482.70 128.10v-1.7M500.20 128.10v-1.7M517.70 128.10v-1.7" class="Mt"/>
<text x="447.70" y="132.80" class="tl" text-anchor="middle">10</text>
<text x="465.20" y="132.80" class="tl" text-anchor="middle">20</text>
<text x="482.70" y="132.80" class="tl" text-anchor="middle">30</text>
<text x="500.20" y="132.80" class="tl" text-anchor="middle">40</text>
<text x="517.70" y="132.80" class="tl" text-anchor="middle">50</text>
<text x="428.50" y="117.00" class="tl" text-anchor="end">0.2</text>
<path d="M429.50 115.60h1.6" class="Mt"/>
<text x="428.50" y="142.40" class="tl" text-anchor="end">0.4</text>
<path d="M429.50 141.00h1.6" class="Mt"/>
<text x="428.50" y="155.40" class="tl" text-anchor="end">0.6</text>
<path d="M429.50 154.00h1.6" class="Mt"/>
<text x="428.50" y="168.40" class="tl" text-anchor="end">0.8</text>
<path d="M429.50 167.00h1.6" class="Mt"/>
<text x="428.50" y="181.40" class="tl" text-anchor="end">1.0</text>
<path d="M429.50 180.00h1.6" class="Mt"/>
<path d="M430.20 111.80C434.80 111.80 439.40 111.80 444.00 111.80C445.00 111.80 446.00 112.00 447.00 112.20C448.53 112.51 450.07 113.19 451.60 114.40C452.80 115.35 454.00 118.93 455.20 121.60C456.17 123.75 457.13 126.22 458.10 128.80C458.93 131.03 459.77 133.89 460.60 136.00C461.57 138.44 462.53 140.61 463.50 142.50C464.67 144.78 465.83 146.93 467.00 148.50C468.67 150.74 470.33 152.81 472.00 153.90C474.27 155.38 476.53 156.36 478.80 157.00C482.17 157.95 485.53 158.60 488.90 159.00C494.27 159.64 499.63 160.16 505.00 160.30C509.33 160.41 513.67 160.50 518.00 160.50" stroke="#1c1c1c" class="cv"/>
<path d="M430.20 133.70C434.13 133.70 438.07 133.73 442.00 133.80C443.33 133.82 444.67 133.93 446.00 134.10C446.83 134.21 447.67 134.58 448.50 135.00C449.53 135.52 450.57 136.44 451.60 137.70C452.57 138.88 453.53 141.25 454.50 143.50C455.57 145.99 456.63 149.76 457.70 152.50C459.37 156.79 461.03 161.73 462.70 164.20C464.67 167.11 466.63 169.54 468.60 170.50C472.00 172.15 475.40 173.00 478.80 173.50C482.53 174.05 486.27 174.38 490.00 174.60C495.00 174.89 500.00 175.14 505.00 175.20C509.33 175.26 513.67 175.30 518.00 175.30" stroke="#ee1c1c" class="cv"/>
<path d="M430.20 135.10C434.13 135.10 438.07 135.13 442.00 135.20C443.33 135.22 444.67 135.33 446.00 135.50C446.83 135.61 447.67 135.98 448.50 136.40C449.53 136.92 450.57 137.83 451.60 139.10C452.57 140.28 453.53 142.72 454.50 145.00C455.57 147.51 456.63 151.28 457.70 154.00C459.37 158.25 461.03 163.07 462.70 165.50C464.67 168.37 466.63 170.75 468.60 171.70C472.00 173.35 475.40 174.20 478.80 174.70C482.53 175.25 486.27 175.61 490.00 175.80C495.00 176.05 500.00 176.24 505.00 176.30C509.33 176.35 513.67 176.40 518.00 176.40" stroke="#1f8c1f" class="cv"/>
<path d="M430.20 139.70C434.13 139.70 438.07 139.73 442.00 139.80C443.33 139.82 444.67 139.93 446.00 140.10C446.83 140.21 447.67 140.59 448.50 141.00C449.53 141.51 450.57 142.40 451.60 143.60C452.57 144.72 453.53 146.94 454.50 149.00C455.57 151.27 456.63 154.60 457.70 157.00C459.37 160.75 461.03 164.85 462.70 167.10C464.67 169.76 466.63 171.97 468.60 173.00C472.00 174.78 475.40 175.75 478.80 176.40C482.53 177.12 486.27 177.64 490.00 177.90C495.00 178.25 500.00 178.45 505.00 178.60C509.33 178.73 513.67 178.85 518.00 178.90" stroke="#1c22f0" class="cv"/>
<rect x="519.50" y="105.50" width="17.1" height="55.7" class="lb"/>
<line x1="521.70" y1="113.40" x2="530.70" y2="113.40" stroke="#666666" stroke-width="0.8"/>
<text x="532.10" y="114.70" class="lt" textLength="2.70" lengthAdjust="spacingAndGlyphs">C</text>
<line x1="521.70" y1="126.75" x2="530.70" y2="126.75" stroke="#f27a7a" stroke-width="0.8"/>
<text x="532.10" y="128.05" class="lt" textLength="3.20" lengthAdjust="spacingAndGlyphs">Si</text>
<line x1="521.70" y1="140.10" x2="530.70" y2="140.10" stroke="#7cc47c" stroke-width="0.8"/>
<text x="532.10" y="141.40" class="lt" textLength="4.50" lengthAdjust="spacingAndGlyphs">Ge</text>
<line x1="521.70" y1="153.45" x2="530.70" y2="153.45" stroke="#7a7af5" stroke-width="0.8"/>
<text x="532.10" y="154.75" class="lt" textLength="4.50" lengthAdjust="spacingAndGlyphs">Sn</text>
<text x="18.30" y="194.00" class="t">C</text>
<text x="21.20" y="195.80" class="ts">v</text>
<text x="23.00" y="191.50" class="ts" textLength="5.20" lengthAdjust="spacingAndGlyphs">[IV]</text>
<text x="29.10" y="193.60" class="t" textLength="2.30" lengthAdjust="spacingAndGlyphs">−</text>
<text x="32.00" y="194.00" class="t">C</text>
<text x="34.90" y="195.80" class="ts">v</text>
<text x="36.70" y="191.50" class="ts" textLength="5.70" lengthAdjust="spacingAndGlyphs">[II]</text>
<line x1="17.80" y1="195.20" x2="44.70" y2="195.20" class="fb"/>
<text x="28.20" y="199.00" class="tn" textLength="4.90" lengthAdjust="spacingAndGlyphs">N1</text>
<text x="45.70" y="196.30" class="tk" textLength="17.40" lengthAdjust="spacingAndGlyphs">[kcal/mol]</text>
<line x1="40.30" y1="202.00" x2="40.30" y2="266.00" class="ax"/>
<path d="M40.30 203.00h1M40.30 205.20h1M40.30 207.40h1M40.30 209.60h1M40.30 211.80h1M40.30 214.00h1M40.30 216.20h1M40.30 218.40h1M40.30 220.60h1M40.30 222.80h1M40.30 225.00h1M40.30 227.20h1M40.30 229.40h1M40.30 231.60h1M40.30 233.80h1M40.30 236.00h1M40.30 238.20h1M40.30 240.40h1M40.30 242.60h1M40.30 244.80h1M40.30 247.00h1M40.30 249.20h1M40.30 251.40h1M40.30 253.60h1M40.30 255.80h1M40.30 258.00h1M40.30 260.20h1M40.30 262.40h1M40.30 264.60h1" class="mt"/>
<line x1="40.30" y1="265.20" x2="123.00" y2="265.20" class="ax"/>
<path d="M42.80 264.55v1.3M45.30 264.55v1.3M47.80 264.55v1.3M50.30 264.55v1.3M52.80 264.55v1.3M55.30 264.55v1.3M57.80 264.55v1.3M60.30 264.55v1.3M62.80 264.55v1.3M65.30 264.55v1.3M67.80 264.55v1.3M70.30 264.55v1.3M72.80 264.55v1.3M75.30 264.55v1.3M77.80 264.55v1.3M80.30 264.55v1.3M82.80 264.55v1.3M85.30 264.55v1.3M87.80 264.55v1.3M90.30 264.55v1.3M92.80 264.55v1.3M95.30 264.55v1.3M97.80 264.55v1.3M100.30 264.55v1.3M102.80 264.55v1.3M105.30 264.55v1.3M107.80 264.55v1.3M110.30 264.55v1.3M112.80 264.55v1.3M115.30 264.55v1.3M117.80 264.55v1.3M120.30 264.55v1.3M122.80 264.55v1.3" class="mt"/>
<path d="M51.70 265.50v-1.7M63.10 265.50v-1.7M74.50 265.50v-1.7M85.90 265.50v-1.7M97.30 265.50v-1.7M108.70 265.50v-1.7M120.10 265.50v-1.7" class="Mt"/>
<text x="51.70" y="270.20" class="tl" text-anchor="middle">1</text>
<text x="63.10" y="270.20" class="tl" text-anchor="middle">2</text>
<text x="74.50" y="270.20" class="tl" text-anchor="middle">3</text>
<text x="85.90" y="270.20" class="tl" text-anchor="middle">4</text>
<text x="97.30" y="270.20" class="tl" text-anchor="middle">5</text>
<text x="108.70" y="270.20" class="tl" text-anchor="middle">6</text>
<text x="120.10" y="270.20" class="tl" text-anchor="middle">7</text>
<text x="125.2" y="266.6" class="tl" style="font-size:4.6px">T</text>
<text x="38.80" y="205.80" class="tl" text-anchor="end">0.8</text>
<path d="M39.80 204.40h1.6" class="Mt"/>
<text x="38.80" y="220.90" class="tl" text-anchor="end">0.6</text>
<path d="M39.80 219.50h1.6" class="Mt"/>
<text x="38.80" y="236.30" class="tl" text-anchor="end">0.4</text>
<path d="M39.80 234.90h1.6" class="Mt"/>
<text x="38.80" y="251.30" class="tl" text-anchor="end">0.2</text>
<path d="M39.80 249.90h1.6" class="Mt"/>
<path d="M40.30 265.20C46.87 265.20 53.43 265.20 60.00 265.20C63.33 265.20 66.67 265.15 70.00 265.10C71.33 265.08 72.67 265.05 74.00 265.00C75.33 264.95 76.67 264.90 78.00 264.78C79.33 264.66 80.67 264.24 82.00 263.82C83.33 263.40 84.67 262.72 86.00 261.95C87.33 261.18 88.67 260.13 90.00 258.97C91.33 257.81 92.67 256.35 94.00 254.76C95.33 253.17 96.67 251.29 98.00 249.28C99.33 247.27 100.67 244.99 102.00 242.61C103.33 240.23 104.67 237.59 106.00 234.92C107.33 232.25 108.67 229.37 110.00 226.53C111.33 223.69 112.67 220.71 114.00 217.89C115.33 215.07 116.67 212.25 118.00 209.63C119.07 207.53 120.13 205.52 121.20 203.60" stroke="#1c1c1c" class="cv"/>
<path d="M40.30 265.20C46.87 265.20 53.43 265.20 60.00 265.20C63.33 265.20 66.67 265.14 70.00 265.10C71.33 265.08 72.67 265.08 74.00 265.05C75.33 265.02 76.67 264.94 78.00 264.83C79.33 264.72 80.67 264.39 82.00 264.04C83.33 263.69 84.67 263.10 86.00 262.44C87.33 261.78 88.67 260.85 90.00 259.81C91.33 258.77 92.67 257.44 94.00 256.00C95.33 254.56 96.67 252.83 98.00 250.99C99.33 249.15 100.67 247.03 102.00 244.85C103.33 242.67 104.67 240.25 106.00 237.84C107.33 235.43 108.67 232.82 110.00 230.36C111.33 227.90 112.67 225.32 114.00 223.08C115.33 220.84 116.67 218.60 118.00 216.85C119.07 215.45 120.13 214.22 121.20 213.20" stroke="#ee1c1c" class="cv"/>
<path d="M40.30 265.20C46.87 265.20 53.43 265.20 60.00 265.20C63.33 265.20 66.67 265.15 70.00 265.12C71.33 265.11 72.67 265.10 74.00 265.07C75.33 265.04 76.67 264.99 78.00 264.89C79.33 264.79 80.67 264.48 82.00 264.15C83.33 263.82 84.67 263.26 86.00 262.63C87.33 262.00 88.67 261.11 90.00 260.11C91.33 259.11 92.67 257.83 94.00 256.43C95.33 255.03 96.67 253.36 98.00 251.57C99.33 249.78 100.67 247.71 102.00 245.58C103.33 243.45 104.67 241.07 106.00 238.70C107.33 236.33 108.67 233.76 110.00 231.32C111.33 228.88 112.67 226.32 114.00 224.07C115.33 221.82 116.67 219.57 118.00 217.78C119.07 216.35 120.13 215.07 121.20 214.00" stroke="#1f8c1f" class="cv"/>
<path d="M40.30 265.20C46.87 265.20 53.43 265.20 60.00 265.20C63.33 265.20 66.67 265.18 70.00 265.15C71.33 265.14 72.67 265.12 74.00 265.10C75.33 265.08 76.67 265.04 78.00 264.97C79.33 264.90 80.67 264.61 82.00 264.31C83.33 264.01 84.67 263.50 86.00 262.91C87.33 262.32 88.67 261.49 90.00 260.55C91.33 259.61 92.67 258.40 94.00 257.08C95.33 255.76 96.67 254.15 98.00 252.44C99.33 250.73 100.67 248.73 102.00 246.67C103.33 244.61 104.67 242.30 106.00 239.99C107.33 237.68 108.67 235.17 110.00 232.77C111.33 230.37 112.67 227.82 114.00 225.56C115.33 223.30 116.67 221.02 118.00 219.17C119.07 217.69 120.13 216.35 121.20 215.20" stroke="#1c22f0" class="cv"/>
<rect x="122.50" y="195.80" width="17.1" height="55.7" class="lb"/>
<line x1="124.70" y1="203.70" x2="133.70" y2="203.70" stroke="#666666" stroke-width="0.8"/>
<text x="135.10" y="205.00" class="lt" textLength="2.70" lengthAdjust="spacingAndGlyphs">C</text>
<line x1="124.70" y1="217.05" x2="133.70" y2="217.05" stroke="#f27a7a" stroke-width="0.8"/>
<text x="135.10" y="218.35" class="lt" textLength="3.20" lengthAdjust="spacingAndGlyphs">Si</text>
<line x1="124.70" y1="230.40" x2="133.70" y2="230.40" stroke="#7cc47c" stroke-width="0.8"/>
<text x="135.10" y="231.70" class="lt" textLength="4.50" lengthAdjust="spacingAndGlyphs">Ge</text>
<line x1="124.70" y1="243.75" x2="133.70" y2="243.75" stroke="#7a7af5" stroke-width="0.8"/>
<text x="135.10" y="245.05" class="lt" textLength="4.50" lengthAdjust="spacingAndGlyphs">Sn</text>
<text x="150.30" y="194.70" class="t">C</text>
<text x="153.20" y="196.50" class="ts">v</text>
<text x="155.90" y="192.20" class="ts" textLength="3.80" lengthAdjust="spacingAndGlyphs">[II]</text>
<text x="161.10" y="194.30" class="t" textLength="2.30" lengthAdjust="spacingAndGlyphs">−</text>
<text x="164.00" y="194.70" class="t">C</text>
<text x="166.90" y="196.50" class="ts">v</text>
<text x="168.70" y="192.20" class="ts" textLength="4.20" lengthAdjust="spacingAndGlyphs">[I]</text>
<line x1="150.30" y1="195.90" x2="173.90" y2="195.90" class="fb"/>
<text x="159.20" y="199.70" class="tn" textLength="4.90" lengthAdjust="spacingAndGlyphs">N1</text>
<text x="174.80" y="197.00" class="tk" textLength="18.80" lengthAdjust="spacingAndGlyphs">[kcal/mol]</text>
<line x1="171.20" y1="202.00" x2="171.20" y2="268.00" class="ax"/>
<path d="M171.20 203.00h1M171.20 205.20h1M171.20 207.40h1M171.20 209.60h1M171.20 211.80h1M171.20 214.00h1M171.20 216.20h1M171.20 218.40h1M171.20 220.60h1M171.20 222.80h1M171.20 225.00h1M171.20 227.20h1M171.20 229.40h1M171.20 231.60h1M171.20 233.80h1M171.20 236.00h1M171.20 238.20h1M171.20 240.40h1M171.20 242.60h1M171.20 244.80h1M171.20 247.00h1M171.20 249.20h1M171.20 251.40h1M171.20 253.60h1M171.20 255.80h1M171.20 258.00h1M171.20 260.20h1M171.20 262.40h1M171.20 264.60h1M171.20 266.80h1" class="mt"/>
<line x1="171.20" y1="260.60" x2="254.00" y2="260.60" class="ax"/>
<path d="M173.70 259.95v1.3M176.20 259.95v1.3M178.70 259.95v1.3M181.20 259.95v1.3M183.70 259.95v1.3M186.20 259.95v1.3M188.70 259.95v1.3M191.20 259.95v1.3M193.70 259.95v1.3M196.20 259.95v1.3M198.70 259.95v1.3M201.20 259.95v1.3M203.70 259.95v1.3M206.20 259.95v1.3M208.70 259.95v1.3M211.20 259.95v1.3M213.70 259.95v1.3M216.20 259.95v1.3M218.70 259.95v1.3M221.20 259.95v1.3M223.70 259.95v1.3M226.20 259.95v1.3M228.70 259.95v1.3M231.20 259.95v1.3M233.70 259.95v1.3M236.20 259.95v1.3M238.70 259.95v1.3M241.20 259.95v1.3M243.70 259.95v1.3M246.20 259.95v1.3M248.70 259.95v1.3M251.20 259.95v1.3M253.70 259.95v1.3" class="mt"/>
<path d="M183.00 260.90v-1.7M194.70 260.90v-1.7M206.40 260.90v-1.7M218.10 260.90v-1.7M229.80 260.90v-1.7M241.50 260.90v-1.7M253.20 260.90v-1.7" class="Mt"/>
<text x="183.00" y="265.60" class="tl" text-anchor="middle">1</text>
<text x="194.70" y="265.60" class="tl" text-anchor="middle">2</text>
<text x="206.40" y="265.60" class="tl" text-anchor="middle">3</text>
<text x="218.10" y="265.60" class="tl" text-anchor="middle">4</text>
<text x="229.80" y="265.60" class="tl" text-anchor="middle">5</text>
<text x="241.50" y="265.60" class="tl" text-anchor="middle">6</text>
<text x="253.20" y="265.60" class="tl" text-anchor="middle">7</text>
<text x="257.6" y="262.2" class="tl" style="font-size:4.6px">T</text>
<text x="169.50" y="211.80" class="tl" text-anchor="end">0.0005</text>
<path d="M170.50 210.40h1.6" class="Mt"/>
<text x="169.50" y="221.60" class="tl" text-anchor="end">0.0004</text>
<path d="M170.50 220.20h1.6" class="Mt"/>
<text x="169.50" y="231.30" class="tl" text-anchor="end">0.0003</text>
<path d="M170.50 229.90h1.6" class="Mt"/>
<text x="169.50" y="241.20" class="tl" text-anchor="end">0.0002</text>
<path d="M170.50 239.80h1.6" class="Mt"/>
<text x="169.50" y="251.40" class="tl" text-anchor="end">0.0001</text>
<path d="M170.50 250.00h1.6" class="Mt"/>
<path d="M171.20 245.80C171.97 249.69 172.73 253.13 173.50 256.00C174.17 258.49 174.83 260.77 175.50 262.50C176.00 263.80 176.50 265.31 177.00 265.80C177.47 266.26 177.93 266.70 178.40 266.70C178.93 266.70 179.47 266.13 180.00 265.60C180.80 264.80 181.60 262.46 182.40 260.60C184.80 255.01 187.20 247.21 189.60 240.50C191.57 235.00 193.53 228.93 195.50 224.00C196.33 221.91 197.17 219.99 198.00 218.20C198.70 216.70 199.40 215.20 200.10 214.00C201.57 211.48 203.03 208.82 204.50 207.60C205.93 206.41 207.37 205.36 208.80 205.10C210.70 204.75 212.60 204.50 214.50 204.50C216.33 204.50 218.17 205.01 220.00 205.30C221.90 205.60 223.80 206.30 225.70 206.30C227.47 206.30 229.23 205.50 231.00 205.20C232.63 204.92 234.27 204.50 235.90 204.50C237.27 204.50 238.63 205.19 240.00 206.00C241.00 206.59 242.00 208.30 243.00 210.00C243.70 211.19 244.40 212.81 245.10 214.70C245.90 216.86 246.70 219.90 247.50 223.00C248.00 224.94 248.50 226.75 249.00 229.50C249.33 231.33 249.67 233.99 250.00 236.70C250.40 239.95 250.80 244.14 251.20 248.00C251.60 251.86 252.00 257.45 252.40 259.90C252.87 262.75 253.33 265.36 253.80 266.00" stroke="#1c1c1c" class="cv"/>
<path d="M171.20 246.80C171.97 250.54 172.73 253.86 173.50 256.60C174.17 258.98 174.83 261.16 175.50 262.80C176.00 264.03 176.50 265.41 177.00 265.90C177.47 266.35 177.93 266.80 178.40 266.80C178.93 266.80 179.47 266.23 180.00 265.70C180.83 264.87 181.67 262.42 182.50 260.60C184.93 255.29 187.37 248.92 189.80 243.00C191.70 238.37 193.60 233.38 195.50 229.00C196.33 227.08 197.17 225.20 198.00 223.50C198.70 222.07 199.40 220.43 200.10 219.50C201.57 217.56 203.03 216.07 204.50 215.30C206.40 214.31 208.30 213.37 210.20 213.30C211.80 213.24 213.40 213.20 215.00 213.20C216.67 213.20 218.33 213.81 220.00 214.00C221.90 214.22 223.80 214.50 225.70 214.50C227.80 214.50 229.90 214.00 232.00 213.80C234.00 213.61 236.00 213.30 238.00 213.30C239.17 213.30 240.33 214.11 241.50 215.00C242.50 215.76 243.50 217.79 244.50 220.00C245.33 221.84 246.17 225.02 247.00 228.00C247.67 230.38 248.33 232.92 249.00 236.00C249.47 238.16 249.93 240.78 250.40 243.50C250.77 245.64 251.13 247.58 251.50 250.50C251.80 252.89 252.10 258.00 252.40 259.90C252.87 262.86 253.33 265.70 253.80 266.00" stroke="#ee1c1c" class="cv"/>
<path d="M171.20 247.20C171.97 250.86 172.73 254.11 173.50 256.80C174.17 259.14 174.83 261.31 175.50 262.90C176.00 264.10 176.50 265.42 177.00 265.90C177.47 266.35 177.93 266.80 178.40 266.80C178.93 266.80 179.47 266.23 180.00 265.70C180.83 264.87 181.67 262.40 182.50 260.60C184.97 255.27 187.43 249.01 189.90 243.20C191.77 238.81 193.63 234.13 195.50 230.00C196.37 228.08 197.23 226.28 198.10 224.50C198.77 223.13 199.43 221.39 200.10 220.50C201.57 218.55 203.03 217.16 204.50 216.40C206.40 215.41 208.30 214.47 210.20 214.40C211.80 214.34 213.40 214.30 215.00 214.30C216.67 214.30 218.33 214.91 220.00 215.10C221.90 215.32 223.80 215.60 225.70 215.60C227.80 215.60 229.90 215.10 232.00 214.90C234.00 214.71 236.00 214.40 238.00 214.40C239.17 214.40 240.33 215.21 241.50 216.10C242.50 216.87 243.50 218.98 244.50 221.20C245.33 223.05 246.17 226.10 247.00 229.00C247.67 231.32 248.33 233.82 249.00 236.80C249.47 238.89 249.93 241.37 250.40 244.00C250.77 246.07 251.13 247.96 251.50 250.80C251.80 253.12 252.10 258.02 252.40 259.90C252.87 262.83 253.33 265.60 253.80 266.00" stroke="#1f8c1f" class="cv"/>
<path d="M171.20 247.70C171.97 251.23 172.73 254.37 173.50 257.00C174.17 259.29 174.83 261.42 175.50 263.00C176.00 264.19 176.50 265.52 177.00 266.00C177.47 266.45 177.93 266.90 178.40 266.90C178.93 266.90 179.47 266.33 180.00 265.80C180.87 264.95 181.73 262.44 182.60 260.60C185.07 255.37 187.53 249.15 190.00 243.50C191.83 239.30 193.67 234.83 195.50 231.00C196.43 229.05 197.37 227.46 198.30 225.50C198.90 224.24 199.50 222.31 200.10 221.50C201.57 219.52 203.03 218.38 204.50 217.60C206.40 216.59 208.30 215.50 210.20 215.50C211.80 215.50 213.40 215.60 215.00 215.70C216.67 215.80 218.33 216.11 220.00 216.30C221.90 216.51 223.80 216.90 225.70 216.90C227.80 216.90 229.90 216.42 232.00 216.20C234.00 215.99 236.00 215.60 238.00 215.60C239.17 215.60 240.33 216.47 241.50 217.40C242.50 218.20 243.50 220.31 244.50 222.50C245.33 224.32 246.17 227.21 247.00 230.00C247.67 232.23 248.33 234.62 249.00 237.50C249.47 239.52 249.93 241.96 250.40 244.50C250.77 246.49 251.13 248.26 251.50 251.00C251.80 253.24 252.10 258.03 252.40 259.90C252.87 262.80 253.33 265.54 253.80 266.00" stroke="#1c22f0" class="cv"/>
<rect x="255.10" y="195.80" width="17.1" height="55.7" class="lb"/>
<line x1="257.30" y1="203.70" x2="266.30" y2="203.70" stroke="#666666" stroke-width="0.8"/>
<text x="267.70" y="205.00" class="lt" textLength="2.70" lengthAdjust="spacingAndGlyphs">C</text>
<line x1="257.30" y1="217.05" x2="266.30" y2="217.05" stroke="#f27a7a" stroke-width="0.8"/>
<text x="267.70" y="218.35" class="lt" textLength="3.20" lengthAdjust="spacingAndGlyphs">Si</text>
<line x1="257.30" y1="230.40" x2="266.30" y2="230.40" stroke="#7cc47c" stroke-width="0.8"/>
<text x="267.70" y="231.70" class="lt" textLength="4.50" lengthAdjust="spacingAndGlyphs">Ge</text>
<line x1="257.30" y1="243.75" x2="266.30" y2="243.75" stroke="#7a7af5" stroke-width="0.8"/>
<text x="267.70" y="245.05" class="lt" textLength="4.50" lengthAdjust="spacingAndGlyphs">Sn</text>
<text x="282.30" y="194.00" class="t">C</text>
<text x="285.20" y="195.80" class="ts">v</text>
<text x="287.90" y="191.50" class="ts" textLength="5.20" lengthAdjust="spacingAndGlyphs">[IV]</text>
<text x="294.50" y="193.60" class="t" textLength="2.30" lengthAdjust="spacingAndGlyphs">−</text>
<text x="296.90" y="194.00" class="t">C</text>
<text x="299.80" y="195.80" class="ts">v</text>
<text x="302.10" y="191.50" class="ts" textLength="5.70" lengthAdjust="spacingAndGlyphs">[II]</text>
<line x1="281.80" y1="195.20" x2="309.20" y2="195.20" class="fb"/>
<text x="293.10" y="199.00" class="tn" textLength="4.90" lengthAdjust="spacingAndGlyphs">N1</text>
<text x="310.10" y="196.30" class="tk" textLength="18.80" lengthAdjust="spacingAndGlyphs">[kcal/mol]</text>
<line x1="305.60" y1="202.20" x2="305.60" y2="266.00" class="ax"/>
<path d="M305.60 203.20h1M305.60 205.40h1M305.60 207.60h1M305.60 209.80h1M305.60 212.00h1M305.60 214.20h1M305.60 216.40h1M305.60 218.60h1M305.60 220.80h1M305.60 223.00h1M305.60 225.20h1M305.60 227.40h1M305.60 229.60h1M305.60 231.80h1M305.60 234.00h1M305.60 236.20h1M305.60 238.40h1M305.60 240.60h1M305.60 242.80h1M305.60 245.00h1M305.60 247.20h1M305.60 249.40h1M305.60 251.60h1M305.60 253.80h1M305.60 256.00h1M305.60 258.20h1M305.60 260.40h1M305.60 262.60h1M305.60 264.80h1" class="mt"/>
<line x1="305.60" y1="265.20" x2="387.30" y2="265.20" class="ax"/>
<path d="M308.10 264.55v1.3M310.60 264.55v1.3M313.10 264.55v1.3M315.60 264.55v1.3M318.10 264.55v1.3M320.60 264.55v1.3M323.10 264.55v1.3M325.60 264.55v1.3M328.10 264.55v1.3M330.60 264.55v1.3M333.10 264.55v1.3M335.60 264.55v1.3M338.10 264.55v1.3M340.60 264.55v1.3M343.10 264.55v1.3M345.60 264.55v1.3M348.10 264.55v1.3M350.60 264.55v1.3M353.10 264.55v1.3M355.60 264.55v1.3M358.10 264.55v1.3M360.60 264.55v1.3M363.10 264.55v1.3M365.60 264.55v1.3M368.10 264.55v1.3M370.60 264.55v1.3M373.10 264.55v1.3M375.60 264.55v1.3M378.10 264.55v1.3M380.60 264.55v1.3M383.10 264.55v1.3M385.60 264.55v1.3" class="mt"/>
<path d="M321.45 265.50v-1.7M337.30 265.50v-1.7M353.15 265.50v-1.7M369.00 265.50v-1.7M384.85 265.50v-1.7" class="Mt"/>
<text x="321.45" y="270.20" class="tl" text-anchor="middle">10</text>
<text x="337.30" y="270.20" class="tl" text-anchor="middle">20</text>
<text x="353.15" y="270.20" class="tl" text-anchor="middle">30</text>
<text x="369.00" y="270.20" class="tl" text-anchor="middle">40</text>
<text x="384.85" y="270.20" class="tl" text-anchor="middle">50</text>
<text x="390.0" y="266.6" class="tl" style="font-size:4.6px">T</text>
<text x="304.00" y="205.30" class="tl" text-anchor="end">1.2</text>
<path d="M305.00 203.90h1.6" class="Mt"/>
<text x="304.00" y="215.10" class="tl" text-anchor="end">1</text>
<path d="M305.00 213.70h1.6" class="Mt"/>
<text x="304.00" y="225.20" class="tl" text-anchor="end">0.8</text>
<path d="M305.00 223.80h1.6" class="Mt"/>
<text x="304.00" y="235.20" class="tl" text-anchor="end">0.6</text>
<path d="M305.00 233.80h1.6" class="Mt"/>
<text x="304.00" y="246.30" class="tl" text-anchor="end">0.4</text>
<path d="M305.00 244.90h1.6" class="Mt"/>
<text x="304.00" y="256.50" class="tl" text-anchor="end">0.2</text>
<path d="M305.00 255.10h1.6" class="Mt"/>
<path d="M305.60 265.20C306.73 265.20 307.87 265.20 309.00 265.20C309.47 265.20 309.93 265.02 310.40 264.80C311.20 264.42 312.00 262.10 312.80 259.20C313.37 257.14 313.93 251.44 314.50 247.00C314.97 243.34 315.43 238.84 315.90 235.00C316.53 229.78 317.17 223.89 317.80 220.00C318.47 215.91 319.13 212.22 319.80 210.00C320.47 207.78 321.13 205.73 321.80 205.00C322.47 204.27 323.13 203.60 323.80 203.60C324.33 203.60 324.87 204.40 325.40 205.50C325.83 206.39 326.27 209.72 326.70 214.00C327.07 217.62 327.43 228.85 327.80 235.00C328.13 240.59 328.47 245.88 328.80 250.00C329.07 253.30 329.33 256.70 329.60 258.50C329.83 260.07 330.07 262.00 330.30 262.00C330.60 262.00 330.90 260.55 331.20 259.50C331.63 257.98 332.07 255.09 332.50 253.00C332.97 250.75 333.43 248.27 333.90 246.50C334.37 244.73 334.83 242.92 335.30 242.00C335.90 240.82 336.50 239.97 337.10 239.50C338.07 238.74 339.03 238.35 340.00 238.00C341.20 237.56 342.40 237.22 343.60 237.00C347.40 236.31 351.20 235.94 355.00 235.60C358.33 235.30 361.67 235.04 365.00 234.90C372.00 234.60 379.00 234.30 386.00 234.30" stroke="#1c1c1c" class="cv"/>
<path d="M305.60 265.20C306.73 265.20 307.87 265.20 309.00 265.20C309.47 265.20 309.93 265.02 310.40 264.80C311.20 264.42 312.00 262.10 312.80 259.20C313.37 257.14 313.93 251.60 314.50 247.00C314.93 243.48 315.37 238.18 315.80 235.00C316.53 229.61 317.27 225.06 318.00 222.00C318.67 219.22 319.33 216.70 320.00 215.50C320.67 214.30 321.33 213.25 322.00 213.00C322.60 212.78 323.20 212.60 323.80 212.60C324.33 212.60 324.87 213.18 325.40 214.00C325.83 214.67 326.27 217.68 326.70 221.00C327.07 223.81 327.43 229.94 327.80 235.00C328.13 239.60 328.47 245.88 328.80 250.00C329.07 253.30 329.33 256.63 329.60 258.50C329.83 260.14 330.07 262.20 330.30 262.20C330.60 262.20 330.90 260.79 331.20 259.80C331.63 258.38 332.07 255.72 332.50 254.00C332.97 252.15 333.43 250.37 333.90 249.00C334.37 247.63 334.83 246.23 335.30 245.50C335.90 244.56 336.50 243.88 337.10 243.50C338.07 242.90 339.03 242.62 340.00 242.30C341.20 241.90 342.40 241.45 343.60 241.30C347.40 240.83 351.20 240.72 355.00 240.50C358.33 240.31 361.67 240.15 365.00 240.00C372.00 239.69 379.00 239.41 386.00 239.20" stroke="#ee1c1c" class="cv"/>
<path d="M305.60 265.20C306.73 265.20 307.87 265.20 309.00 265.20C309.47 265.20 309.93 265.02 310.40 264.80C311.20 264.42 312.00 262.10 312.80 259.20C313.37 257.14 313.93 251.60 314.50 247.00C314.93 243.48 315.37 238.04 315.80 235.00C316.53 229.86 317.27 225.83 318.00 223.00C318.67 220.43 319.33 218.33 320.00 217.00C320.67 215.67 321.33 214.31 322.00 214.00C322.60 213.72 323.20 213.50 323.80 213.50C324.33 213.50 324.87 214.13 325.40 215.00C325.83 215.71 326.27 218.76 326.70 222.00C327.07 224.74 327.43 230.14 327.80 235.00C328.13 239.42 328.47 245.88 328.80 250.00C329.07 253.30 329.33 256.60 329.60 258.50C329.83 260.16 330.07 262.30 330.30 262.30C330.60 262.30 330.90 260.94 331.20 260.00C331.63 258.64 332.07 256.18 332.50 254.50C332.97 252.69 333.43 250.87 333.90 249.50C334.37 248.13 334.83 246.73 335.30 246.00C335.90 245.06 336.50 244.38 337.10 244.00C338.07 243.40 339.03 243.12 340.00 242.80C341.20 242.40 342.40 241.98 343.60 241.80C347.40 241.24 351.20 241.04 355.00 240.80C358.33 240.59 361.67 240.44 365.00 240.30C372.00 240.01 379.00 239.75 386.00 239.60" stroke="#1f8c1f" class="cv"/>
<path d="M305.60 265.20C306.73 265.20 307.87 265.20 309.00 265.20C309.47 265.20 309.93 265.02 310.40 264.80C311.20 264.42 312.00 262.10 312.80 259.20C313.37 257.14 313.93 251.98 314.50 247.00C314.87 243.78 315.23 237.62 315.60 235.00C316.33 229.75 317.07 226.59 317.80 224.00C318.53 221.41 319.27 219.21 320.00 218.00C320.67 216.90 321.33 215.90 322.00 215.60C322.60 215.33 323.20 215.10 323.80 215.10C324.33 215.10 324.87 215.69 325.40 216.50C325.83 217.16 326.27 220.00 326.70 223.00C327.07 225.54 327.43 230.36 327.80 235.00C328.13 239.22 328.47 245.88 328.80 250.00C329.07 253.30 329.33 256.56 329.60 258.50C329.83 260.19 330.07 262.40 330.30 262.40C330.60 262.40 330.90 261.10 331.20 260.20C331.63 258.90 332.07 256.64 332.50 255.00C332.97 253.24 333.43 251.25 333.90 250.00C334.37 248.75 334.83 247.69 335.30 247.00C335.90 246.11 336.50 245.42 337.10 245.00C338.07 244.33 339.03 243.94 340.00 243.60C341.20 243.17 342.40 242.78 343.60 242.60C347.40 242.04 351.20 241.87 355.00 241.60C358.33 241.36 361.67 241.16 365.00 241.00C372.00 240.66 379.00 240.36 386.00 240.20" stroke="#1c22f0" class="cv"/>
<rect x="387.30" y="195.60" width="17.1" height="55.7" class="lb"/>
<line x1="389.50" y1="203.50" x2="398.50" y2="203.50" stroke="#666666" stroke-width="0.8"/>
<text x="399.90" y="204.80" class="lt" textLength="2.70" lengthAdjust="spacingAndGlyphs">C</text>
<line x1="389.50" y1="216.85" x2="398.50" y2="216.85" stroke="#f27a7a" stroke-width="0.8"/>
<text x="399.90" y="218.15" class="lt" textLength="3.20" lengthAdjust="spacingAndGlyphs">Si</text>
<line x1="389.50" y1="230.20" x2="398.50" y2="230.20" stroke="#7cc47c" stroke-width="0.8"/>
<text x="399.90" y="231.50" class="lt" textLength="4.50" lengthAdjust="spacingAndGlyphs">Ge</text>
<line x1="389.50" y1="243.55" x2="398.50" y2="243.55" stroke="#7a7af5" stroke-width="0.8"/>
<text x="399.90" y="244.85" class="lt" textLength="4.50" lengthAdjust="spacingAndGlyphs">Sn</text>
<text x="415.20" y="194.70" class="t">C</text>
<text x="418.10" y="196.50" class="ts">v</text>
<text x="420.40" y="192.20" class="ts" textLength="3.80" lengthAdjust="spacingAndGlyphs">[II]</text>
<text x="425.60" y="194.30" class="t" textLength="2.30" lengthAdjust="spacingAndGlyphs">−</text>
<text x="428.90" y="194.70" class="t">C</text>
<text x="431.80" y="196.50" class="ts">v</text>
<text x="433.60" y="192.20" class="ts" textLength="3.80" lengthAdjust="spacingAndGlyphs">[I]</text>
<line x1="414.70" y1="195.90" x2="439.30" y2="195.90" class="fb"/>
<text x="423.70" y="199.70" class="tn" textLength="4.90" lengthAdjust="spacingAndGlyphs">N1</text>
<text x="440.20" y="197.00" class="tk" textLength="18.80" lengthAdjust="spacingAndGlyphs">[kcal/mol]</text>
<line x1="436.60" y1="204.00" x2="436.60" y2="269.00" class="ax"/>
<path d="M436.60 205.00h1M436.60 207.20h1M436.60 209.40h1M436.60 211.60h1M436.60 213.80h1M436.60 216.00h1M436.60 218.20h1M436.60 220.40h1M436.60 222.60h1M436.60 224.80h1M436.60 227.00h1M436.60 229.20h1M436.60 231.40h1M436.60 233.60h1M436.60 235.80h1M436.60 238.00h1M436.60 240.20h1M436.60 242.40h1M436.60 244.60h1M436.60 246.80h1M436.60 249.00h1M436.60 251.20h1M436.60 253.40h1M436.60 255.60h1M436.60 257.80h1M436.60 260.00h1M436.60 262.20h1M436.60 264.40h1M436.60 266.60h1M436.60 268.80h1" class="mt"/>
<line x1="436.60" y1="204.80" x2="519.00" y2="204.80" class="ax"/>
<path d="M439.10 204.15v1.3M441.60 204.15v1.3M444.10 204.15v1.3M446.60 204.15v1.3M449.10 204.15v1.3M451.60 204.15v1.3M454.10 204.15v1.3M456.60 204.15v1.3M459.10 204.15v1.3M461.60 204.15v1.3M464.10 204.15v1.3M466.60 204.15v1.3M469.10 204.15v1.3M471.60 204.15v1.3M474.10 204.15v1.3M476.60 204.15v1.3M479.10 204.15v1.3M481.60 204.15v1.3M484.10 204.15v1.3M486.60 204.15v1.3M489.10 204.15v1.3M491.60 204.15v1.3M494.10 204.15v1.3M496.60 204.15v1.3M499.10 204.15v1.3M501.60 204.15v1.3M504.10 204.15v1.3M506.60 204.15v1.3M509.10 204.15v1.3M511.60 204.15v1.3M514.10 204.15v1.3M516.60 204.15v1.3" class="mt"/>
<path d="M452.70 205.10v-1.7M469.00 205.10v-1.7M485.30 205.10v-1.7M501.60 205.10v-1.7M517.90 205.10v-1.7" class="Mt"/>
<text x="452.70" y="209.60" class="tl" text-anchor="middle">10</text>
<text x="469.00" y="209.60" class="tl" text-anchor="middle">20</text>
<text x="485.30" y="209.60" class="tl" text-anchor="middle">30</text>
<text x="501.60" y="209.60" class="tl" text-anchor="middle">40</text>
<text x="517.90" y="209.60" class="tl" text-anchor="middle">50</text>
<text x="435.00" y="219.80" class="tl" text-anchor="end">-0.1</text>
<path d="M436.00 218.40h1.6" class="Mt"/>
<text x="435.00" y="234.30" class="tl" text-anchor="end">-0.2</text>
<path d="M436.00 232.90h1.6" class="Mt"/>
<text x="435.00" y="248.10" class="tl" text-anchor="end">-0.3</text>
<path d="M436.00 246.70h1.6" class="Mt"/>
<text x="435.00" y="262.00" class="tl" text-anchor="end">-0.4</text>
<path d="M436.00 260.60h1.6" class="Mt"/>
<path d="M436.60 204.80C439.40 204.80 442.20 204.80 445.00 204.80C446.33 204.80 447.67 204.84 449.00 204.90C449.87 204.94 450.73 205.18 451.60 205.50C452.40 205.79 453.20 206.59 454.00 207.50C454.67 208.26 455.33 209.72 456.00 211.00C456.70 212.35 457.40 213.64 458.10 215.50C458.90 217.62 459.70 220.89 460.50 224.00C461.20 226.72 461.90 230.34 462.60 233.00C463.33 235.79 464.07 238.16 464.80 240.50C465.57 242.95 466.33 245.35 467.10 247.40C467.80 249.28 468.50 251.13 469.20 252.50C470.00 254.06 470.80 255.40 471.60 256.40C472.73 257.82 473.87 258.94 475.00 259.80C476.27 260.76 477.53 261.36 478.80 262.10C480.47 263.07 482.13 264.36 483.80 264.90C485.87 265.58 487.93 266.07 490.00 266.30C493.33 266.67 496.67 266.88 500.00 267.00C506.23 267.22 512.47 267.40 518.70 267.40" stroke="#1c1c1c" class="cv"/>
<path d="M436.60 204.80C439.40 204.80 442.20 204.80 445.00 204.80C446.00 204.80 447.00 204.85 448.00 204.90C449.20 204.97 450.40 205.16 451.60 205.50C452.40 205.73 453.20 206.47 454.00 207.30C454.67 207.99 455.33 209.41 456.00 210.50C457.00 212.13 458.00 213.31 459.00 215.50C459.83 217.33 460.67 220.52 461.50 223.30C462.40 226.30 463.30 230.13 464.20 233.00C465.13 235.97 466.07 238.51 467.00 241.00C468.00 243.67 469.00 246.92 470.00 248.50C471.33 250.61 472.67 252.29 474.00 253.00C476.00 254.07 478.00 254.57 480.00 255.00C481.67 255.36 483.33 255.59 485.00 255.80C488.33 256.22 491.67 256.62 495.00 256.80C502.90 257.23 510.80 257.60 518.70 257.60" stroke="#ee1c1c" class="cv"/>
<path d="M436.60 204.80C439.40 204.80 442.20 204.80 445.00 204.80C446.00 204.80 447.00 204.85 448.00 204.90C449.20 204.97 450.40 205.16 451.60 205.50C452.40 205.73 453.20 206.47 454.00 207.30C454.67 207.99 455.33 209.41 456.00 210.50C457.00 212.13 458.00 213.32 459.00 215.50C459.83 217.32 460.67 220.47 461.50 223.20C462.43 226.25 463.37 230.12 464.30 233.00C465.27 235.98 466.23 238.60 467.20 241.00C468.23 243.57 469.27 246.47 470.30 248.00C471.70 250.07 473.10 251.72 474.50 252.50C476.33 253.52 478.17 254.10 480.00 254.50C481.67 254.87 483.33 255.09 485.00 255.30C488.33 255.72 491.67 256.14 495.00 256.30C502.90 256.69 510.80 257.00 518.70 257.00" stroke="#1f8c1f" class="cv"/>
<path d="M436.60 204.80C439.40 204.80 442.20 204.80 445.00 204.80C446.00 204.80 447.00 204.85 448.00 204.90C449.20 204.97 450.40 205.16 451.60 205.50C452.40 205.73 453.20 206.47 454.00 207.30C454.67 207.99 455.33 209.43 456.00 210.50C457.00 212.10 458.00 213.17 459.00 215.30C459.83 217.07 460.67 220.29 461.50 223.00C462.47 226.14 463.43 230.14 464.40 233.00C465.43 236.06 466.47 238.67 467.50 241.00C468.57 243.41 469.63 246.12 470.70 247.40C472.13 249.13 473.57 250.36 475.00 251.00C476.67 251.75 478.33 252.15 480.00 252.50C481.67 252.85 483.33 253.07 485.00 253.30C488.33 253.76 491.67 254.33 495.00 254.50C502.90 254.91 510.80 255.20 518.70 255.20" stroke="#1c22f0" class="cv"/>
<rect x="519.50" y="195.80" width="17.1" height="55.7" class="lb"/>
<line x1="521.70" y1="203.70" x2="530.70" y2="203.70" stroke="#666666" stroke-width="0.8"/>
<text x="532.10" y="205.00" class="lt" textLength="2.70" lengthAdjust="spacingAndGlyphs">C</text>
<line x1="521.70" y1="217.05" x2="530.70" y2="217.05" stroke="#f27a7a" stroke-width="0.8"/>
<text x="532.10" y="218.35" class="lt" textLength="3.20" lengthAdjust="spacingAndGlyphs">Si</text>
<line x1="521.70" y1="230.40" x2="530.70" y2="230.40" stroke="#7cc47c" stroke-width="0.8"/>
<text x="532.10" y="231.70" class="lt" textLength="4.50" lengthAdjust="spacingAndGlyphs">Ge</text>
<line x1="521.70" y1="243.75" x2="530.70" y2="243.75" stroke="#7a7af5" stroke-width="0.8"/>
<text x="532.10" y="245.05" class="lt" textLength="4.50" lengthAdjust="spacingAndGlyphs">Sn</text>
</svg>
</body></html>
